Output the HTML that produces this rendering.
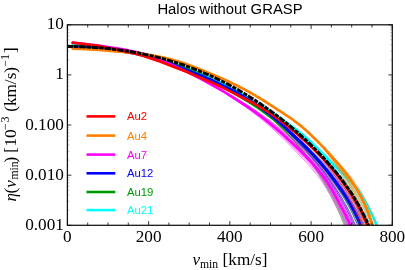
<!DOCTYPE html>
<html><head><meta charset="utf-8"><style>
html,body{margin:0;padding:0;background:#fff;}
body{width:405px;height:270px;overflow:hidden;position:relative;font-family:"Liberation Serif",serif;}
svg{position:absolute;left:0;top:0;}
text{font-family:"Liberation Serif",serif;font-size:16px;fill:#000;}
text.tk{font-size:17.2px;}
text.lb{font-size:17.2px;}
text.sb{font-size:11.7px;}
text.sp{font-size:12px;}
.i{font-style:italic;}
text.lg{font-family:"Liberation Sans",sans-serif;font-size:11.3px;}
</style></head><body>
<svg style="will-change:transform" width="405" height="270" viewBox="0 0 405 270">
<defs><clipPath id="c"><rect x="67.4" y="24.8" width="324.9" height="200.5"/></clipPath></defs>
<g clip-path="url(#c)" fill="none" stroke-linejoin="round">
<path d="M71.8 44.7 80.9 45.0 89.9 45.6 98.9 46.5 107.8 47.5 116.8 48.9 125.6 50.5 134.4 52.4 143.2 54.4 151.9 56.6 160.6 59.1 169.1 61.7 177.7 64.5 186.1 67.5 194.5 70.7 202.8 74.1 211.0 77.7 219.0 81.6 227.0 85.7 234.9 90.0 242.6 94.4 249.2 98.3 251.8 99.9 254.3 101.4 256.9 103.0 259.4 104.5 262.0 106.1 264.5 107.8 267.0 109.4 269.5 111.1 272.0 112.7 274.5 114.4 277.0 116.1 279.5 117.7 282.0 119.4 284.4 121.1 286.9 122.8 289.4 124.5 291.8 126.3 294.3 128.1 296.7 129.9 299.0 131.8 301.4 133.7 303.7 135.6 306.0 137.6 308.2 139.6 310.5 141.6 312.6 143.7 314.7 145.9 316.8 148.1 318.8 150.4 320.7 152.7 322.7 155.0 324.6 157.3 326.5 159.7 328.3 162.1 330.2 164.4 332.0 166.8 333.9 169.2 335.8 171.5 337.7 173.8 339.5 176.2 341.4 178.6 343.1 181.0 344.8 183.5 346.5 186.0 348.2 188.5 349.7 191.0 351.2 193.7 352.5 196.4 353.7 199.1 354.9 201.9 356.1 204.6 357.2 207.4 358.3 210.2 359.3 213.0 360.4 215.8 361.3 218.6 362.2 221.4 363.1 224.2 364.0 227.1 364.8 229.9 365.5 232.7 366.3 235.6 367.0 238.4 367.6 241.3 368.3 244.1 368.9 247.0 369.5 249.8 370.0 252.7 370.5 255.5 371.0 258.4 371.5 261.3 371.9 264.1 372.3 267.0 372.7 269.9" stroke="#00ffff" stroke-width="0.5"/>
<path d="M71.8 44.7 80.9 45.0 89.9 45.6 98.9 46.5 107.8 47.5 116.8 48.9 125.6 50.5 134.4 52.4 143.2 54.4 151.9 56.6 160.6 59.1 169.1 61.7 177.7 64.5 186.1 67.5 194.5 70.7 202.8 74.1 211.0 77.7 219.0 81.6 227.0 85.7 234.9 90.0 242.6 94.4 249.2 98.3 251.8 99.9 254.3 101.4 256.9 103.0 259.4 104.5 262.0 106.1 264.5 107.8 267.0 109.4 269.5 111.1 272.0 112.7 274.5 114.4 277.0 116.1 279.5 117.7 282.0 119.4 284.4 121.1 286.9 122.8 289.4 124.5 291.8 126.3 294.3 128.1 296.7 129.9 299.0 131.8 301.4 133.7 303.7 135.6 306.0 137.6 308.2 139.6 310.5 141.6 312.6 143.7 314.8 145.9 316.8 148.1 318.9 150.3 320.9 152.5 322.9 154.8 324.8 157.1 326.8 159.4 328.7 161.7 330.6 164.1 332.5 166.4 334.5 168.7 336.4 171.0 338.4 173.2 340.4 175.5 342.3 177.9 344.1 180.3 345.9 182.7 347.7 185.1 349.5 187.6 351.1 190.1 352.7 192.7 354.1 195.4 355.4 198.1 356.7 200.8 358.0 203.6 359.2 206.3 360.4 209.1 361.5 211.9 362.6 214.7 363.7 217.5 364.7 220.3 365.7 223.1 366.6 225.9 367.5 228.8 368.4 231.6 369.2 234.5 370.0 237.3 370.7 240.2 371.4 243.1 372.1 246.0 372.8 248.8 373.4 251.7 374.0 254.6 374.5 257.5 375.0 260.4 375.5 263.3 376.0 266.2 376.5 269.1" stroke="#00ffff" stroke-width="0.5"/>
<path d="M71.8 44.7 80.9 45.0 89.9 45.6 98.9 46.5 107.8 47.5 116.8 48.9 125.6 50.5 134.4 52.4 143.2 54.4 151.9 56.6 160.6 59.1 169.1 61.7 177.7 64.5 186.1 67.5 194.5 70.7 202.8 74.1 211.0 77.7 219.0 81.6 227.0 85.7 234.9 90.0 242.6 94.4 249.2 98.3 251.8 99.9 254.3 101.4 256.9 103.0 259.4 104.5 262.0 106.1 264.5 107.8 267.0 109.4 269.5 111.1 272.0 112.7 274.5 114.4 277.0 116.1 279.5 117.7 282.0 119.4 284.4 121.1 286.9 122.8 289.4 124.5 291.8 126.3 294.3 128.1 296.7 129.9 299.0 131.8 301.4 133.7 303.7 135.6 306.0 137.6 308.2 139.6 310.5 141.6 312.6 143.7 314.8 145.9 316.9 148.0 318.9 150.3 320.9 152.5 322.9 154.8 324.9 157.0 326.9 159.3 328.8 161.7 330.7 164.0 332.6 166.3 334.6 168.6 336.6 170.8 338.6 173.1 340.6 175.4 342.5 177.7 344.4 180.1 346.2 182.5 348.0 184.9 349.8 187.3 351.5 189.8 353.1 192.4 354.5 195.1 355.9 197.8 357.2 200.5 358.5 203.3 359.7 206.0 360.9 208.8 362.1 211.6 363.2 214.4 364.3 217.2 365.4 220.0 366.4 222.8 367.3 225.6 368.2 228.5 369.1 231.3 370.0 234.2 370.8 237.1 371.5 239.9 372.3 242.8 373.0 245.7 373.6 248.6 374.3 251.5 374.9 254.4 375.5 257.3 376.0 260.2 376.5 263.1 377.0 266.0 377.5 269.0" stroke="#00ffff" stroke-width="0.5"/>
<path d="M71.8 44.7 80.9 45.0 89.9 45.6 98.9 46.5 107.8 47.5 116.8 48.9 125.6 50.5 134.4 52.4 143.2 54.4 151.9 56.6 160.6 59.1 169.1 61.7 177.7 64.5 186.1 67.5 194.5 70.7 202.8 74.1 211.0 77.7 219.0 81.6 227.0 85.7 234.9 90.0 242.6 94.4 249.2 98.3 251.8 99.9 254.3 101.4 256.9 103.0 259.4 104.5 262.0 106.1 264.5 107.8 267.0 109.4 269.5 111.1 272.0 112.7 274.5 114.4 277.0 116.1 279.5 117.7 282.0 119.4 284.4 121.1 286.9 122.8 289.4 124.5 291.8 126.3 294.3 128.1 296.7 129.9 299.0 131.8 301.4 133.7 303.7 135.6 306.0 137.6 308.2 139.6 310.5 141.6 312.7 143.7 314.8 145.8 316.9 148.0 319.0 150.1 321.1 152.3 323.1 154.6 325.2 156.8 327.2 159.1 329.2 161.3 331.1 163.6 333.1 165.9 335.2 168.1 337.3 170.3 339.4 172.5 341.4 174.7 343.4 177.0 345.4 179.3 347.3 181.7 349.3 184.0 351.2 186.4 353.0 188.9 354.7 191.4 356.2 194.1 357.6 196.7 359.1 199.4 360.4 202.1 361.8 204.9 363.1 207.6 364.4 210.4 365.6 213.2 366.8 216.0 367.9 218.8 369.0 221.6 370.1 224.5 371.1 227.3 372.0 230.2 373.0 233.1 373.9 236.0 374.7 238.9 375.6 241.8 376.3 244.7 377.1 247.6 377.8 250.5 378.5 253.4 379.1 256.4 379.7 259.3 380.3 262.3 380.8 265.2 381.3 268.2" stroke="#00ffff" stroke-width="0.5"/>
<path d="M71.8 44.7 80.9 45.0 89.9 45.6 98.9 46.5 107.8 47.5 116.8 48.9 125.6 50.5 134.4 52.4 143.2 54.4 151.9 56.6 160.6 59.1 169.1 61.7 177.7 64.5 186.1 67.5 194.5 70.7 202.8 74.1 211.0 77.7 219.0 81.6 227.0 85.7 234.9 90.0 242.6 94.4 249.2 98.3 251.8 99.9 254.3 101.4 256.9 103.0 259.4 104.5 262.0 106.1 264.5 107.8 267.0 109.4 269.5 111.1 272.0 112.7 274.5 114.4 277.0 116.1 279.5 117.7 282.0 119.4 284.4 121.1 286.9 122.8 289.4 124.5 291.8 126.3 294.3 128.1 296.7 129.9 299.0 131.8 301.4 133.7 303.7 135.6 306.0 137.6 308.2 139.6 310.5 141.6 312.7 143.7 314.8 145.8 317.0 147.9 319.1 150.1 321.1 152.3 323.2 154.5 325.3 156.7 327.3 158.9 329.3 161.2 331.3 163.4 333.3 165.7 335.4 167.9 337.5 170.1 339.7 172.2 341.8 174.5 343.8 176.7 345.8 179.0 347.8 181.3 349.8 183.7 351.7 186.0 353.5 188.5 355.2 191.0 356.8 193.6 358.3 196.3 359.8 199.0 361.2 201.7 362.6 204.4 363.9 207.2 365.2 210.0 366.5 212.7 367.7 215.5 368.9 218.4 370.0 221.2 371.1 224.0 372.2 226.9 373.2 229.8 374.1 232.6 375.1 235.5 376.0 238.4 376.8 241.4 377.6 244.3 378.4 247.2 379.1 250.1 379.8 253.1 380.5 256.0 381.1 259.0 381.7 261.9 382.3 264.9 382.8 267.9" stroke="#00ffff" stroke-width="0.5"/>
<path d="M71.8 44.7 80.9 45.0 89.9 45.6 98.9 46.5 107.8 47.5 116.8 48.9 125.6 50.5 134.4 52.4 143.2 54.4 151.9 56.6 160.6 59.1 169.1 61.7 177.7 64.5 186.1 67.5 194.5 70.7 202.8 74.1 211.0 77.7 219.0 81.6 227.0 85.7 234.9 90.0 242.6 94.4 249.2 98.3 251.8 99.9 254.3 101.4 256.9 103.0 259.4 104.5 262.0 106.1 264.5 107.8 267.0 109.4 269.5 111.1 272.0 112.7 274.5 114.4 277.0 116.1 279.5 117.7 282.0 119.4 284.4 121.1 286.9 122.8 289.4 124.5 291.8 126.3 294.3 128.1 296.7 129.9 299.0 131.8 301.4 133.7 303.7 135.6 306.0 137.6 308.2 139.6 310.5 141.6 312.7 143.7 314.9 145.8 317.0 147.9 319.1 150.0 321.3 152.2 323.4 154.4 325.4 156.5 327.5 158.8 329.6 161.0 331.6 163.2 333.7 165.4 335.8 167.6 338.0 169.7 340.2 171.8 342.3 174.0 344.4 176.2 346.5 178.5 348.6 180.8 350.6 183.1 352.6 185.4 354.5 187.8 356.3 190.3 357.9 192.9 359.5 195.6 361.0 198.3 362.5 201.0 364.0 203.7 365.4 206.4 366.8 209.2 368.1 211.9 369.4 214.7 370.6 217.6 371.8 220.4 373.0 223.2 374.1 226.1 375.2 229.0 376.2 231.9 377.2 234.8 378.1 237.7 379.0 240.6 379.9 243.6 380.7 246.5 381.5 249.5 382.3 252.4 383.0 255.4 383.6 258.4 384.3 261.4 384.9 264.4 385.5 267.4" stroke="#00ffff" stroke-width="0.5"/>
<path d="M71.8 44.7 80.9 45.0 89.9 45.6 98.9 46.5 107.8 47.5 116.8 48.9 125.6 50.5 134.4 52.4 143.2 54.4 151.9 56.6 160.6 59.1 169.1 61.7 177.7 64.5 186.1 67.5 194.5 70.7 202.8 74.1 211.0 77.7 219.0 81.6 227.0 85.7 234.9 90.0 242.6 94.4 249.2 98.3 251.8 99.9 254.3 101.4 256.9 103.0 259.4 104.5 262.0 106.1 264.5 107.8 267.0 109.4 269.5 111.1 272.0 112.7 274.5 114.4 277.0 116.1 279.5 117.7 282.0 119.4 284.4 121.1 286.9 122.8 289.4 124.5 291.8 126.3 294.3 128.1 296.7 129.9 299.0 131.8 301.4 133.7 303.7 135.6 306.0 137.6 308.2 139.6 310.5 141.6 312.7 143.7 314.9 145.7 317.1 147.8 319.2 150.0 321.4 152.1 323.5 154.2 325.6 156.4 327.7 158.6 329.8 160.7 331.9 162.9 334.0 165.1 336.2 167.2 338.5 169.3 340.7 171.4 342.9 173.5 345.1 175.7 347.2 178.0 349.4 180.2 351.5 182.5 353.5 184.8 355.5 187.1 357.4 189.6 359.1 192.2 360.7 194.8 362.3 197.5 363.9 200.2 365.4 202.9 366.9 205.6 368.3 208.3 369.7 211.1 371.1 213.9 372.4 216.7 373.7 219.6 374.9 222.4 376.1 225.3 377.2 228.2 378.3 231.1 379.4 234.0 380.4 236.9 381.3 239.9 382.2 242.9 383.1 245.8 384.0 248.8 384.8 251.8 385.5 254.8 386.2 257.8 386.9 260.8 387.6 263.8 388.2 266.8" stroke="#00ffff" stroke-width="0.5"/>
<path d="M71.8 44.7 80.9 45.0 89.9 45.6 98.9 46.5 107.8 47.5 116.8 48.9 125.6 50.5 134.4 52.4 143.2 54.4 151.9 56.6 160.6 59.1 169.1 61.7 177.7 64.5 186.1 67.5 194.5 70.7 202.8 74.1 211.0 77.7 219.0 81.6 227.0 85.7 234.9 90.0 242.6 94.4 249.2 98.3 251.8 99.9 254.3 101.4 256.9 103.0 259.4 104.5 262.0 106.1 264.5 107.8 267.0 109.4 269.5 111.1 272.0 112.7 274.5 114.4 277.0 116.1 279.5 117.7 282.0 119.4 284.4 121.1 286.9 122.8 289.4 124.5 291.8 126.3 294.3 128.1 296.7 129.9 299.0 131.8 301.4 133.7 303.7 135.6 306.0 137.6 308.2 139.6 310.5 141.6 312.7 143.7 314.9 145.7 317.1 147.8 319.3 149.9 321.4 152.0 323.6 154.1 325.7 156.3 327.9 158.4 330.0 160.6 332.1 162.7 334.3 164.9 336.5 167.0 338.8 169.0 341.1 171.1 343.3 173.2 345.6 175.4 347.7 177.6 349.9 179.8 352.1 182.0 354.2 184.3 356.2 186.7 358.1 189.1 359.9 191.7 361.6 194.3 363.2 197.0 364.8 199.6 366.4 202.3 367.9 205.0 369.4 207.8 370.9 210.6 372.3 213.3 373.6 216.2 375.0 219.0 376.2 221.9 377.5 224.7 378.6 227.6 379.8 230.5 380.9 233.5 381.9 236.4 382.9 239.4 383.9 242.4 384.8 245.3 385.7 248.3 386.5 251.3 387.3 254.3 388.0 257.4 388.7 260.4 389.4 263.4 390.0 266.4" stroke="#00ffff" stroke-width="0.5"/>
<path d="M71.8 44.7 80.9 45.0 89.9 45.6 98.9 46.5 107.8 47.5 116.8 48.9 125.6 50.5 134.4 52.4 143.2 54.4 151.9 56.6 160.6 59.1 169.1 61.7 177.7 64.5 186.1 67.5 194.5 70.7 202.8 74.1 211.0 77.7 219.0 81.6 227.0 85.7 234.9 90.0 242.6 94.4 249.2 98.3 251.8 99.9 254.3 101.4 256.9 103.0 259.4 104.5 262.0 106.1 264.5 107.8 267.0 109.4 269.5 111.1 272.0 112.7 274.5 114.4 277.0 116.1 279.5 117.7 282.0 119.4 284.4 121.1 286.9 122.8 289.4 124.5 291.8 126.3 294.3 128.1 296.7 129.9 299.0 131.8 301.4 133.7 303.7 135.6 306.0 137.6 308.2 139.6 310.5 141.6 312.7 143.7 314.9 145.7 317.1 147.8 319.2 149.9 321.4 152.1 323.5 154.2 325.7 156.3 327.8 158.5 329.9 160.7 332.0 162.9 334.1 165.0 336.3 167.1 338.6 169.2 340.8 171.3 343.1 173.4 345.3 175.6 347.4 177.8 349.5 180.1 351.7 182.3 353.8 184.6 355.8 187.0 357.7 189.4 359.4 192.0 361.0 194.6 362.7 197.3 364.2 200.0 365.8 202.7 367.3 205.4 368.7 208.1 370.1 210.9 371.5 213.7 372.9 216.5 374.1 219.4 375.4 222.2 376.6 225.1 377.7 228.0 378.8 230.9 379.9 233.8 380.9 236.8 381.9 239.7 382.8 242.7 383.7 245.7 384.6 248.6 385.4 251.6 386.1 254.6 386.9 257.6 387.6 260.6 388.2 263.7 388.8 266.7" stroke="#00ffff" stroke-width="2.7"/>
<path d="M71.8 46.2 80.8 46.5 89.8 47.0 98.8 47.7 107.7 48.7 116.6 49.9 125.5 51.3 134.3 53.0 143.1 54.9 151.8 57.2 160.4 59.9 168.8 62.7 177.3 65.7 185.6 68.8 193.9 72.1 202.1 75.6 210.1 79.5 218.0 83.7 225.8 88.1 233.4 92.5 241.1 97.0 247.5 101.0 250.0 102.6 252.5 104.2 255.0 105.8 257.4 107.5 259.8 109.3 262.2 111.1 264.5 112.9 266.8 114.8 269.1 116.7 271.3 118.6 273.5 120.6 275.7 122.6 277.8 124.7 279.9 126.7 282.0 128.8 284.1 130.9 286.2 133.1 288.2 135.2 290.2 137.4 292.2 139.6 294.1 141.8 296.0 144.0 297.9 146.3 299.8 148.5 301.7 150.8 303.5 153.1 305.3 155.4 307.1 157.7 308.8 160.1 310.5 162.4 312.2 164.8 313.9 167.2 315.5 169.6 317.1 172.0 318.7 174.4 320.2 176.9 321.7 179.3 323.2 181.8 324.6 184.3 326.0 186.7 327.4 189.2 328.8 191.7 330.1 194.1 331.5 196.6 332.8 199.1 334.0 201.6 335.2 204.0 336.4 206.5 337.6 209.0 338.7 211.6 339.7 214.1 340.8 216.6 341.7 219.1 342.7 221.6 343.6 224.2 344.5 226.7 345.3 229.2 346.1 231.8 346.9 234.3 347.7 236.9 348.5 239.4 349.2 241.9 349.9 244.5 350.5 247.1 351.2 249.6 351.8 252.2 352.3 254.8 352.9 257.4 353.4 260.0 353.9 262.7 354.4 265.3 354.8 267.9 355.3 270.6 355.7 273.3" stroke="#009900" stroke-width="0.5"/>
<path d="M71.8 46.2 80.8 46.5 89.8 47.0 98.8 47.7 107.7 48.7 116.6 49.9 125.5 51.3 134.3 53.0 143.1 54.9 151.8 57.2 160.4 59.9 168.8 62.7 177.3 65.7 185.6 68.8 193.9 72.1 202.1 75.6 210.1 79.5 218.0 83.7 225.8 88.1 233.4 92.5 241.1 97.0 247.5 101.0 250.0 102.6 252.5 104.2 255.0 105.8 257.4 107.5 259.8 109.3 262.2 111.1 264.5 112.9 266.8 114.7 269.1 116.6 271.3 118.6 273.6 120.5 275.7 122.5 277.9 124.6 280.0 126.6 282.2 128.7 284.2 130.8 286.3 132.9 288.3 135.0 290.4 137.2 292.4 139.4 294.3 141.6 296.3 143.8 298.2 146.0 300.1 148.2 302.0 150.5 303.8 152.8 305.6 155.1 307.4 157.4 309.2 159.7 310.9 162.0 312.7 164.4 314.3 166.8 316.0 169.2 317.6 171.5 319.2 174.0 320.8 176.4 322.3 178.8 323.8 181.3 325.3 183.7 326.7 186.2 328.1 188.7 329.5 191.1 330.9 193.6 332.3 196.1 333.6 198.5 334.9 201.0 336.1 203.5 337.3 206.0 338.5 208.5 339.6 211.0 340.7 213.5 341.8 216.0 342.8 218.5 343.8 221.1 344.7 223.6 345.6 226.1 346.5 228.7 347.3 231.2 348.1 233.8 348.9 236.3 349.7 238.9 350.5 241.5 351.2 244.0 351.9 246.6 352.5 249.2 353.2 251.8 353.8 254.4 354.3 257.0 354.9 259.6 355.4 262.3 355.9 264.9 356.3 267.6 356.8 270.3 357.2 273.0" stroke="#009900" stroke-width="0.5"/>
<path d="M71.8 46.2 80.8 46.5 89.8 47.0 98.8 47.7 107.7 48.7 116.6 49.9 125.5 51.3 134.3 53.0 143.1 54.9 151.8 57.2 160.4 59.9 168.8 62.7 177.3 65.7 185.6 68.8 193.9 72.1 202.1 75.6 210.1 79.5 218.0 83.7 225.8 88.1 233.4 92.5 241.1 97.0 247.5 101.0 250.0 102.6 252.5 104.2 255.0 105.8 257.4 107.5 259.8 109.3 262.2 111.0 264.5 112.9 266.8 114.7 269.1 116.6 271.4 118.5 273.6 120.5 275.8 122.5 278.0 124.5 280.1 126.5 282.2 128.6 284.3 130.7 286.4 132.8 288.5 134.9 290.5 137.0 292.5 139.2 294.5 141.4 296.4 143.6 298.4 145.8 300.3 148.0 302.2 150.3 304.1 152.5 305.9 154.8 307.7 157.1 309.5 159.4 311.3 161.7 313.0 164.1 314.7 166.4 316.4 168.8 318.0 171.2 319.6 173.6 321.2 176.0 322.8 178.4 324.3 180.9 325.8 183.3 327.2 185.8 328.7 188.3 330.1 190.7 331.5 193.2 332.9 195.6 334.2 198.1 335.5 200.6 336.8 203.0 338.0 205.5 339.2 208.0 340.4 210.5 341.5 213.1 342.6 215.6 343.6 218.1 344.6 220.6 345.6 223.2 346.5 225.7 347.4 228.3 348.3 230.8 349.1 233.4 349.9 236.0 350.7 238.5 351.5 241.1 352.2 243.7 352.9 246.2 353.6 248.8 354.2 251.5 354.8 254.1 355.4 256.7 356.0 259.3 356.5 262.0 357.0 264.7 357.5 267.4 358.0 270.0 358.4 272.7" stroke="#009900" stroke-width="0.5"/>
<path d="M71.8 46.2 80.8 46.5 89.8 47.0 98.8 47.7 107.7 48.7 116.6 49.9 125.5 51.3 134.3 53.0 143.1 54.9 151.8 57.2 160.4 59.9 168.8 62.7 177.3 65.7 185.6 68.8 193.9 72.1 202.1 75.6 210.1 79.5 218.0 83.7 225.8 88.1 233.4 92.5 241.1 97.0 247.5 101.0 250.0 102.6 252.5 104.2 255.0 105.8 257.4 107.5 259.8 109.3 262.2 111.0 264.5 112.8 266.9 114.7 269.2 116.6 271.4 118.5 273.7 120.4 275.9 122.4 278.1 124.4 280.2 126.4 282.4 128.4 284.5 130.5 286.6 132.6 288.6 134.7 290.7 136.8 292.7 139.0 294.7 141.1 296.7 143.3 298.6 145.5 300.6 147.7 302.5 150.0 304.3 152.2 306.2 154.5 308.0 156.8 309.8 159.1 311.6 161.4 313.4 163.7 315.1 166.1 316.8 168.4 318.5 170.8 320.1 173.2 321.7 175.6 323.3 178.0 324.8 180.4 326.4 182.9 327.8 185.3 329.3 187.8 330.8 190.2 332.2 192.7 333.6 195.1 335.0 197.6 336.3 200.0 337.6 202.5 338.8 205.0 340.1 207.5 341.3 210.0 342.4 212.5 343.5 215.1 344.6 217.6 345.6 220.1 346.6 222.7 347.6 225.2 348.5 227.8 349.4 230.3 350.2 232.9 351.1 235.5 351.9 238.1 352.7 240.6 353.4 243.2 354.2 245.8 354.9 248.4 355.5 251.1 356.2 253.7 356.8 256.3 357.3 259.0 357.9 261.7 358.4 264.3 358.9 267.0 359.4 269.7 359.8 272.5" stroke="#009900" stroke-width="0.5"/>
<path d="M71.8 46.2 80.8 46.5 89.8 47.0 98.8 47.7 107.7 48.7 116.6 49.9 125.5 51.3 134.3 53.0 143.1 54.9 151.8 57.2 160.4 59.9 168.8 62.7 177.3 65.7 185.6 68.8 193.9 72.1 202.1 75.6 210.1 79.5 218.0 83.7 225.8 88.1 233.4 92.5 241.1 97.0 247.5 101.0 250.0 102.6 252.5 104.2 255.0 105.8 257.4 107.5 259.8 109.2 262.2 111.0 264.6 112.8 266.9 114.6 269.2 116.5 271.5 118.4 273.7 120.3 276.0 122.3 278.2 124.2 280.3 126.2 282.5 128.3 284.6 130.3 286.7 132.4 288.8 134.5 290.9 136.6 292.9 138.7 294.9 140.9 296.9 143.0 298.9 145.2 300.9 147.4 302.8 149.6 304.7 151.8 306.6 154.1 308.5 156.4 310.3 158.6 312.1 160.9 313.9 163.2 315.6 165.6 317.4 167.9 319.1 170.3 320.7 172.6 322.4 175.0 324.0 177.4 325.6 179.9 327.1 182.3 328.6 184.7 330.1 187.2 331.6 189.6 333.1 192.0 334.5 194.5 335.9 196.9 337.3 199.4 338.6 201.9 339.9 204.3 341.1 206.8 342.4 209.4 343.5 211.9 344.7 214.4 345.8 216.9 346.9 219.5 347.9 222.0 348.9 224.6 349.8 227.2 350.7 229.7 351.6 232.3 352.5 234.9 353.4 237.5 354.2 240.1 355.0 242.7 355.7 245.3 356.4 247.9 357.1 250.6 357.8 253.2 358.4 255.9 359.0 258.6 359.6 261.2 360.1 263.9 360.6 266.7 361.1 269.4 361.6 272.1" stroke="#009900" stroke-width="0.5"/>
<path d="M71.8 46.2 80.8 46.5 89.8 47.0 98.8 47.7 107.7 48.7 116.6 49.9 125.5 51.3 134.3 53.0 143.1 54.9 151.8 57.2 160.4 59.9 168.8 62.7 177.3 65.7 185.6 68.8 193.9 72.1 202.1 75.6 210.1 79.5 218.0 83.7 225.8 88.1 233.4 92.5 241.1 97.0 247.5 101.0 250.0 102.6 252.5 104.2 255.0 105.8 257.4 107.5 259.9 109.2 262.3 110.9 264.6 112.7 267.0 114.5 269.3 116.3 271.7 118.2 273.9 120.0 276.2 121.9 278.5 123.9 280.7 125.8 282.9 127.8 285.1 129.8 287.2 131.8 289.4 133.8 291.5 135.9 293.6 137.9 295.7 140.0 297.8 142.1 299.8 144.3 301.8 146.4 303.8 148.5 305.8 150.7 307.8 152.9 309.7 155.1 311.6 157.3 313.5 159.6 315.4 161.8 317.2 164.1 319.0 166.4 320.8 168.7 322.6 171.0 324.3 173.4 326.0 175.7 327.7 178.1 329.3 180.5 330.9 182.9 332.5 185.3 334.1 187.7 335.7 190.1 337.2 192.6 338.7 195.0 340.2 197.4 341.6 199.9 343.0 202.4 344.4 204.9 345.7 207.4 347.0 209.9 348.2 212.4 349.4 215.0 350.6 217.5 351.7 220.1 352.8 222.7 353.9 225.3 354.9 227.9 355.8 230.5 356.8 233.1 357.8 235.8 358.7 238.4 359.6 241.1 360.4 243.7 361.2 246.4 362.0 249.1 362.7 251.8 363.4 254.5 364.0 257.2 364.7 260.0 365.3 262.7 365.9 265.5 366.4 268.3 366.9 271.0" stroke="#009900" stroke-width="0.5"/>
<path d="M71.8 46.2 80.8 46.5 89.8 47.0 98.8 47.7 107.7 48.7 116.6 49.9 125.5 51.3 134.3 53.0 143.1 54.9 151.8 57.2 160.4 59.9 168.8 62.7 177.3 65.7 185.6 68.8 193.9 72.1 202.1 75.6 210.1 79.5 218.0 83.7 225.8 88.1 233.4 92.5 241.1 97.0 247.5 101.0 250.0 102.6 252.5 104.2 255.0 105.8 257.4 107.5 259.9 109.2 262.3 110.9 264.7 112.7 267.0 114.4 269.4 116.2 271.7 118.1 274.0 119.9 276.3 121.8 278.6 123.7 280.8 125.6 283.0 127.6 285.2 129.6 287.4 131.5 289.6 133.6 291.7 135.6 293.9 137.6 296.0 139.7 298.1 141.8 300.2 143.9 302.2 146.0 304.2 148.1 306.3 150.3 308.3 152.4 310.2 154.6 312.2 156.8 314.1 159.0 316.0 161.3 317.9 163.5 319.7 165.8 321.5 168.1 323.3 170.4 325.1 172.7 326.8 175.1 328.5 177.4 330.2 179.8 331.8 182.2 333.5 184.6 335.1 187.0 336.7 189.4 338.3 191.8 339.8 194.2 341.4 196.6 342.8 199.1 344.3 201.6 345.7 204.1 347.0 206.6 348.4 209.1 349.7 211.6 350.9 214.2 352.1 216.8 353.3 219.3 354.4 221.9 355.5 224.5 356.5 227.2 357.5 229.8 358.6 232.4 359.5 235.1 360.5 237.7 361.4 240.4 362.3 243.1 363.1 245.8 363.9 248.5 364.6 251.2 365.4 254.0 366.1 256.7 366.7 259.5 367.4 262.2 367.9 265.0 368.5 267.8 369.1 270.6" stroke="#009900" stroke-width="0.5"/>
<path d="M71.8 46.2 80.8 46.5 89.8 47.0 98.8 47.7 107.7 48.7 116.6 49.9 125.5 51.3 134.3 53.0 143.1 54.9 151.8 57.2 160.4 59.9 168.8 62.7 177.3 65.7 185.6 68.8 193.9 72.1 202.1 75.6 210.1 79.5 218.0 83.7 225.8 88.1 233.4 92.5 241.1 97.0 247.5 101.0 250.0 102.6 252.5 104.2 255.0 105.8 257.4 107.5 259.9 109.2 262.3 110.9 264.7 112.6 267.1 114.4 269.4 116.2 271.8 118.0 274.1 119.8 276.4 121.7 278.7 123.6 281.0 125.5 283.2 127.4 285.4 129.3 287.6 131.3 289.8 133.3 292.0 135.3 294.1 137.3 296.3 139.4 298.4 141.4 300.5 143.5 302.6 145.6 304.6 147.7 306.7 149.8 308.7 152.0 310.7 154.1 312.7 156.3 314.6 158.5 316.6 160.7 318.5 163.0 320.3 165.2 322.2 167.5 324.0 169.8 325.8 172.1 327.6 174.4 329.3 176.8 331.0 179.1 332.7 181.5 334.4 183.9 336.1 186.3 337.7 188.7 339.3 191.1 340.9 193.5 342.5 195.9 344.0 198.4 345.5 200.8 346.9 203.3 348.3 205.8 349.7 208.4 351.0 210.9 352.3 213.4 353.5 216.0 354.7 218.6 355.9 221.2 357.0 223.8 358.1 226.5 359.1 229.1 360.2 231.8 361.2 234.4 362.2 237.1 363.1 239.8 364.0 242.5 364.9 245.2 365.7 247.9 366.5 250.7 367.3 253.4 368.0 256.2 368.7 259.0 369.3 261.8 369.9 264.6 370.5 267.4 371.1 270.2" stroke="#009900" stroke-width="0.5"/>
<path d="M71.8 46.2 80.8 46.5 89.8 47.0 98.8 47.7 107.7 48.7 116.6 49.9 125.5 51.3 134.3 53.0 143.1 54.9 151.8 57.2 160.4 59.9 168.8 62.7 177.3 65.7 185.6 68.8 193.9 72.1 202.1 75.6 210.1 79.5 218.0 83.7 225.8 88.1 233.4 92.5 241.1 97.0 247.5 101.0 250.0 102.6 252.5 104.2 255.0 105.8 257.5 107.5 259.9 109.1 262.3 110.8 264.8 112.5 267.2 114.2 269.6 116.0 271.9 117.8 274.3 119.6 276.6 121.4 279.0 123.2 281.3 125.1 283.6 127.0 285.8 128.9 288.1 130.8 290.3 132.7 292.5 134.7 294.7 136.6 296.9 138.6 299.1 140.6 301.3 142.7 303.4 144.7 305.6 146.8 307.7 148.8 309.7 150.9 311.8 153.0 313.9 155.2 315.9 157.3 317.9 159.5 319.9 161.7 321.8 163.9 323.8 166.1 325.7 168.3 327.6 170.6 329.4 172.9 331.2 175.2 333.0 177.6 334.8 179.9 336.5 182.3 338.3 184.6 340.0 187.0 341.7 189.4 343.4 191.8 345.1 194.2 346.7 196.6 348.2 199.1 349.8 201.6 351.3 204.1 352.7 206.6 354.1 209.1 355.5 211.7 356.9 214.3 358.1 216.9 359.4 219.5 360.6 222.2 361.8 224.8 362.9 227.5 364.0 230.2 365.1 232.9 366.2 235.6 367.2 238.3 368.2 241.1 369.1 243.8 370.0 246.6 370.9 249.4 371.7 252.2 372.4 255.0 373.2 257.9 373.9 260.7 374.6 263.5 375.2 266.4 375.8 269.3" stroke="#009900" stroke-width="0.5"/>
<path d="M71.8 46.2 80.8 46.5 89.8 47.0 98.8 47.7 107.7 48.7 116.6 49.9 125.5 51.3 134.3 53.0 143.1 54.9 151.8 57.2 160.4 59.9 168.8 62.7 177.3 65.7 185.6 68.8 193.9 72.1 202.1 75.6 210.1 79.5 218.0 83.7 225.8 88.1 233.4 92.5 241.1 97.0 247.5 101.0 250.0 102.6 252.5 104.2 255.0 105.8 257.5 107.5 259.9 109.2 262.3 110.8 264.7 112.6 267.1 114.3 269.5 116.1 271.9 117.8 274.2 119.7 276.6 121.5 278.9 123.3 281.1 125.2 283.4 127.1 285.7 129.0 287.9 131.0 290.1 132.9 292.3 134.9 294.5 136.9 296.7 138.9 298.8 140.9 301.0 143.0 303.1 145.0 305.2 147.1 307.3 149.2 309.4 151.3 311.4 153.5 313.4 155.6 315.4 157.8 317.4 160.0 319.3 162.2 321.3 164.4 323.2 166.6 325.1 168.9 326.9 171.2 328.7 173.5 330.5 175.8 332.3 178.1 334.0 180.5 335.7 182.9 337.4 185.2 339.1 187.6 340.8 190.0 342.5 192.4 344.1 194.8 345.7 197.3 347.2 199.7 348.7 202.2 350.2 204.7 351.6 207.3 353.0 209.8 354.3 212.4 355.6 214.9 356.9 217.5 358.1 220.2 359.3 222.8 360.4 225.5 361.5 228.1 362.6 230.8 363.7 233.5 364.7 236.2 365.7 238.9 366.6 241.6 367.5 244.3 368.4 247.1 369.2 249.9 370.0 252.7 370.8 255.5 371.5 258.3 372.2 261.1 372.8 263.9 373.4 266.8 374.0 269.6" stroke="#009900" stroke-width="2.7"/>
<path d="M71.8 47.0 80.8 47.2 89.8 47.6 98.7 48.3 107.7 49.2 116.6 50.3 125.4 51.8 134.3 53.4 143.0 55.4 151.7 57.7 160.2 60.3 168.7 63.2 177.1 66.2 185.4 69.4 193.7 72.7 201.9 76.1 210.1 79.6 218.2 83.2 226.3 87.1 234.2 91.2 241.9 95.6 248.4 99.6 250.9 101.2 253.4 102.9 255.8 104.6 258.2 106.3 260.6 108.1 263.0 109.9 265.4 111.7 267.7 113.5 270.0 115.4 272.3 117.3 274.5 119.3 276.7 121.3 278.9 123.3 281.0 125.4 283.2 127.4 285.3 129.5 287.3 131.7 289.4 133.8 291.5 135.9 293.5 138.1 295.5 140.2 297.6 142.3 299.6 144.5 301.6 146.7 303.5 148.9 305.5 151.1 307.4 153.3 309.3 155.5 311.2 157.8 313.1 160.0 314.9 162.3 316.7 164.6 318.5 166.9 320.2 169.2 322.0 171.6 323.7 173.9 325.3 176.3 326.9 178.7 328.5 181.1 330.1 183.6 331.6 186.0 333.2 188.4 334.7 190.8 336.2 193.3 337.7 195.7 339.1 198.2 340.5 200.6 341.8 203.1 343.2 205.6 344.4 208.1 345.7 210.6 346.9 213.2 348.0 215.7 349.2 218.3 350.3 220.8 351.3 223.4 352.3 226.0 353.3 228.6 354.2 231.2 355.1 233.8 356.0 236.4 356.9 239.1 357.8 241.7 358.6 244.3 359.3 247.0 360.1 249.7 360.8 252.3 361.4 255.0 362.1 257.8 362.7 260.5 363.3 263.2 363.8 265.9 364.3 268.7 364.8 271.5" stroke="#0000ff" stroke-width="0.5"/>
<path d="M71.8 47.0 80.8 47.2 89.8 47.6 98.7 48.3 107.7 49.2 116.6 50.3 125.4 51.8 134.3 53.4 143.0 55.4 151.7 57.7 160.2 60.3 168.7 63.2 177.1 66.2 185.4 69.4 193.7 72.7 201.9 76.1 210.1 79.6 218.2 83.2 226.3 87.1 234.2 91.2 241.9 95.6 248.4 99.6 250.9 101.2 253.4 102.9 255.8 104.6 258.2 106.3 260.7 108.0 263.0 109.8 265.4 111.6 267.8 113.4 270.1 115.3 272.4 117.2 274.6 119.2 276.8 121.1 279.0 123.1 281.2 125.2 283.3 127.2 285.4 129.3 287.5 131.4 289.6 133.5 291.7 135.7 293.8 137.8 295.8 139.9 297.8 142.0 299.9 144.2 301.9 146.3 303.9 148.5 305.8 150.7 307.8 152.9 309.7 155.1 311.6 157.3 313.5 159.6 315.4 161.8 317.2 164.1 319.0 166.4 320.8 168.7 322.6 171.0 324.3 173.4 326.0 175.8 327.6 178.2 329.2 180.6 330.8 183.0 332.4 185.4 334.0 187.8 335.5 190.2 337.1 192.6 338.6 195.1 340.0 197.5 341.5 200.0 342.8 202.5 344.2 205.0 345.5 207.5 346.8 210.0 348.0 212.6 349.2 215.1 350.4 217.7 351.5 220.2 352.5 222.8 353.6 225.4 354.6 228.0 355.5 230.7 356.5 233.3 357.4 235.9 358.3 238.5 359.2 241.2 360.0 243.8 360.8 246.5 361.6 249.2 362.3 251.9 363.0 254.6 363.6 257.3 364.3 260.1 364.9 262.8 365.4 265.6 366.0 268.4 366.5 271.1" stroke="#0000ff" stroke-width="0.5"/>
<path d="M71.8 47.0 80.8 47.2 89.8 47.6 98.7 48.3 107.7 49.2 116.6 50.3 125.4 51.8 134.3 53.4 143.0 55.4 151.7 57.7 160.2 60.3 168.7 63.2 177.1 66.2 185.4 69.4 193.7 72.7 201.9 76.1 210.1 79.6 218.2 83.2 226.3 87.1 234.2 91.2 241.9 95.6 248.4 99.6 250.9 101.2 253.4 102.9 255.8 104.6 258.3 106.3 260.7 108.0 263.1 109.8 265.5 111.6 267.8 113.4 270.1 115.2 272.4 117.1 274.7 119.0 276.9 121.0 279.1 123.0 281.3 125.0 283.5 127.1 285.6 129.1 287.7 131.2 289.8 133.3 291.9 135.4 294.0 137.5 296.1 139.6 298.1 141.7 300.2 143.8 302.2 146.0 304.2 148.1 306.2 150.3 308.2 152.5 310.2 154.7 312.1 156.9 314.0 159.1 315.9 161.4 317.7 163.6 319.6 165.9 321.4 168.2 323.2 170.5 324.9 172.9 326.6 175.2 328.3 177.6 330.0 180.0 331.6 182.4 333.2 184.8 334.8 187.2 336.4 189.6 337.9 192.0 339.5 194.5 341.0 196.9 342.4 199.4 343.8 201.9 345.2 204.3 346.6 206.9 347.9 209.4 349.1 211.9 350.4 214.5 351.5 217.0 352.7 219.6 353.8 222.2 354.9 224.8 355.9 227.5 356.9 230.1 357.9 232.7 358.8 235.3 359.8 238.0 360.6 240.7 361.5 243.3 362.3 246.0 363.1 248.7 363.8 251.4 364.6 254.2 365.2 256.9 365.9 259.7 366.5 262.4 367.1 265.2 367.6 268.0 368.2 270.8" stroke="#0000ff" stroke-width="0.5"/>
<path d="M71.8 47.0 80.8 47.2 89.8 47.6 98.7 48.3 107.7 49.2 116.6 50.3 125.4 51.8 134.3 53.4 143.0 55.4 151.7 57.7 160.2 60.3 168.7 63.2 177.1 66.2 185.4 69.4 193.7 72.7 201.9 76.1 210.1 79.6 218.2 83.2 226.3 87.1 234.2 91.2 241.9 95.6 248.4 99.6 250.9 101.2 253.4 102.9 255.8 104.5 258.3 106.2 260.7 107.9 263.1 109.7 265.5 111.5 267.9 113.2 270.3 115.1 272.6 116.9 274.9 118.8 277.1 120.8 279.3 122.7 281.6 124.7 283.7 126.7 285.9 128.8 288.1 130.8 290.2 132.9 292.3 134.9 294.4 137.0 296.5 139.1 298.6 141.2 300.7 143.3 302.8 145.4 304.8 147.5 306.9 149.6 308.9 151.8 310.9 153.9 312.9 156.1 314.8 158.3 316.8 160.5 318.7 162.8 320.6 165.0 322.4 167.3 324.2 169.6 326.0 171.9 327.8 174.3 329.5 176.6 331.2 179.0 332.9 181.4 334.6 183.8 336.2 186.1 337.9 188.5 339.5 190.9 341.1 193.4 342.6 195.8 344.1 198.3 345.6 200.7 347.0 203.2 348.4 205.8 349.8 208.3 351.1 210.8 352.4 213.4 353.6 216.0 354.8 218.6 356.0 221.2 357.1 223.8 358.2 226.4 359.2 229.1 360.3 231.7 361.3 234.4 362.2 237.1 363.2 239.8 364.1 242.5 364.9 245.2 365.8 247.9 366.5 250.7 367.3 253.4 368.0 256.2 368.7 259.0 369.3 261.8 369.9 264.6 370.5 267.4 371.1 270.2" stroke="#0000ff" stroke-width="0.5"/>
<path d="M71.8 47.0 80.8 47.2 89.8 47.6 98.7 48.3 107.7 49.2 116.6 50.3 125.4 51.8 134.3 53.4 143.0 55.4 151.7 57.7 160.2 60.3 168.7 63.2 177.1 66.2 185.4 69.4 193.7 72.7 201.9 76.1 210.1 79.6 218.2 83.2 226.3 87.1 234.2 91.2 241.9 95.6 248.4 99.6 250.9 101.2 253.4 102.9 255.9 104.5 258.3 106.2 260.7 107.9 263.2 109.6 265.6 111.4 267.9 113.2 270.3 115.0 272.6 116.8 274.9 118.7 277.2 120.6 279.4 122.6 281.7 124.6 283.9 126.6 286.0 128.6 288.2 130.6 290.4 132.7 292.5 134.7 294.6 136.8 296.7 138.8 298.9 140.9 301.0 143.0 303.1 145.1 305.1 147.2 307.2 149.3 309.2 151.5 311.2 153.6 313.2 155.8 315.2 158.0 317.2 160.2 319.1 162.4 321.0 164.6 322.9 166.9 324.7 169.2 326.6 171.5 328.3 173.8 330.1 176.2 331.8 178.5 333.5 180.9 335.2 183.3 336.9 185.7 338.5 188.0 340.2 190.4 341.8 192.9 343.4 195.3 344.9 197.8 346.4 200.2 347.9 202.7 349.3 205.2 350.7 207.8 352.0 210.3 353.3 212.9 354.6 215.5 355.8 218.1 357.0 220.7 358.1 223.3 359.2 226.0 360.3 228.6 361.4 231.3 362.4 234.0 363.4 236.6 364.4 239.3 365.3 242.1 366.2 244.8 367.0 247.5 367.8 250.3 368.6 253.1 369.3 255.9 370.0 258.6 370.7 261.5 371.3 264.3 371.9 267.1 372.4 269.9" stroke="#0000ff" stroke-width="0.5"/>
<path d="M71.8 47.0 80.8 47.2 89.8 47.6 98.7 48.3 107.7 49.2 116.6 50.3 125.4 51.8 134.3 53.4 143.0 55.4 151.7 57.7 160.2 60.3 168.7 63.2 177.1 66.2 185.4 69.4 193.7 72.7 201.9 76.1 210.1 79.6 218.2 83.2 226.3 87.1 234.2 91.2 241.9 95.6 248.4 99.6 250.9 101.2 253.4 102.9 255.9 104.5 258.3 106.2 260.8 107.9 263.2 109.6 265.6 111.4 268.0 113.1 270.4 114.9 272.7 116.7 275.0 118.6 277.3 120.5 279.5 122.5 281.8 124.4 284.0 126.4 286.2 128.4 288.4 130.4 290.5 132.5 292.7 134.5 294.8 136.6 297.0 138.6 299.1 140.7 301.2 142.7 303.3 144.8 305.4 146.9 307.5 149.0 309.5 151.1 311.6 153.3 313.6 155.4 315.6 157.6 317.6 159.8 319.5 162.0 321.5 164.2 323.4 166.5 325.2 168.7 327.1 171.0 328.9 173.3 330.7 175.7 332.4 178.0 334.1 180.4 335.8 182.8 337.6 185.2 339.2 187.5 340.9 189.9 342.5 192.3 344.1 194.8 345.7 197.2 347.2 199.7 348.7 202.2 350.2 204.7 351.6 207.2 353.0 209.8 354.3 212.4 355.6 215.0 356.8 217.6 358.0 220.2 359.2 222.8 360.3 225.5 361.4 228.2 362.5 230.8 363.6 233.5 364.6 236.2 365.6 238.9 366.5 241.6 367.4 244.4 368.3 247.1 369.1 249.9 369.9 252.7 370.6 255.5 371.3 258.3 372.0 261.1 372.6 264.0 373.3 266.8 373.8 269.7" stroke="#0000ff" stroke-width="0.5"/>
<path d="M71.8 47.0 80.8 47.2 89.8 47.6 98.7 48.3 107.7 49.2 116.6 50.3 125.4 51.8 134.3 53.4 143.0 55.4 151.7 57.7 160.2 60.3 168.7 63.2 177.1 66.2 185.4 69.4 193.7 72.7 201.9 76.1 210.1 79.6 218.2 83.2 226.3 87.1 234.2 91.2 241.9 95.6 248.4 99.6 250.9 101.2 253.4 102.9 255.9 104.5 258.4 106.1 260.8 107.8 263.3 109.5 265.7 111.2 268.1 113.0 270.5 114.7 272.8 116.6 275.2 118.4 277.5 120.3 279.8 122.2 282.0 124.1 284.3 126.1 286.5 128.1 288.7 130.0 290.9 132.0 293.1 134.0 295.3 136.1 297.4 138.1 299.6 140.1 301.8 142.1 303.9 144.2 306.1 146.2 308.2 148.3 310.3 150.4 312.4 152.5 314.4 154.6 316.5 156.8 318.5 158.9 320.5 161.1 322.5 163.3 324.4 165.5 326.3 167.8 328.2 170.0 330.1 172.3 331.9 174.7 333.7 177.0 335.5 179.3 337.3 181.7 339.0 184.1 340.8 186.4 342.5 188.8 344.2 191.2 345.8 193.6 347.5 196.1 349.0 198.6 350.6 201.1 352.1 203.6 353.6 206.1 355.0 208.7 356.4 211.2 357.7 213.8 359.0 216.5 360.3 219.1 361.5 221.8 362.7 224.4 363.8 227.1 365.0 229.8 366.1 232.5 367.2 235.2 368.2 238.0 369.2 240.7 370.1 243.5 371.0 246.3 371.9 249.1 372.7 251.9 373.5 254.8 374.2 257.6 374.9 260.4 375.6 263.3 376.3 266.2 376.9 269.1" stroke="#0000ff" stroke-width="0.5"/>
<path d="M71.8 47.0 80.8 47.2 89.8 47.6 98.7 48.3 107.7 49.2 116.6 50.3 125.4 51.8 134.3 53.4 143.0 55.4 151.7 57.7 160.2 60.3 168.7 63.2 177.1 66.2 185.4 69.4 193.7 72.7 201.9 76.1 210.1 79.6 218.2 83.2 226.3 87.1 234.2 91.2 241.9 95.6 248.4 99.6 250.9 101.2 253.4 102.9 255.9 104.5 258.4 106.1 260.8 107.8 263.3 109.5 265.7 111.2 268.1 112.9 270.5 114.7 272.9 116.5 275.2 118.3 277.5 120.2 279.8 122.1 282.1 124.0 284.3 126.0 286.6 127.9 288.8 129.9 291.0 131.9 293.2 133.9 295.4 135.9 297.6 137.9 299.8 139.9 301.9 142.0 304.1 144.0 306.2 146.0 308.4 148.1 310.5 150.2 312.6 152.3 314.6 154.4 316.7 156.5 318.7 158.7 320.8 160.9 322.7 163.1 324.7 165.3 326.6 167.5 328.6 169.8 330.4 172.1 332.3 174.4 334.1 176.7 335.9 179.0 337.7 181.4 339.4 183.8 341.2 186.1 342.9 188.5 344.6 190.9 346.3 193.3 348.0 195.8 349.6 198.2 351.1 200.7 352.6 203.2 354.1 205.8 355.6 208.3 357.0 210.9 358.3 213.5 359.7 216.1 360.9 218.8 362.2 221.5 363.4 224.1 364.5 226.8 365.7 229.5 366.8 232.2 367.9 235.0 368.9 237.7 369.9 240.5 370.9 243.3 371.8 246.1 372.7 248.9 373.5 251.7 374.3 254.5 375.0 257.4 375.8 260.3 376.5 263.1 377.1 266.0 377.7 268.9" stroke="#0000ff" stroke-width="0.5"/>
<path d="M71.8 47.0 80.8 47.2 89.8 47.6 98.7 48.3 107.7 49.2 116.6 50.3 125.4 51.8 134.3 53.4 143.0 55.4 151.7 57.7 160.2 60.3 168.7 63.2 177.1 66.2 185.4 69.4 193.7 72.7 201.9 76.1 210.1 79.6 218.2 83.2 226.3 87.1 234.2 91.2 241.9 95.6 248.4 99.6 250.9 101.2 253.4 102.8 255.9 104.5 258.4 106.1 260.9 107.8 263.3 109.4 265.8 111.1 268.2 112.8 270.6 114.6 273.0 116.4 275.3 118.2 277.7 120.0 280.0 121.9 282.3 123.8 284.5 125.7 286.8 127.7 289.0 129.6 291.3 131.6 293.5 133.6 295.7 135.6 297.9 137.6 300.1 139.5 302.3 141.5 304.5 143.6 306.7 145.6 308.8 147.6 311.0 149.7 313.1 151.8 315.2 153.9 317.3 156.0 319.4 158.1 321.4 160.3 323.4 162.4 325.4 164.6 327.4 166.8 329.3 169.1 331.2 171.4 333.1 173.7 335.0 176.0 336.8 178.3 338.6 180.7 340.4 183.0 342.2 185.4 344.0 187.7 345.8 190.1 347.5 192.5 349.2 195.0 350.8 197.5 352.4 199.9 354.0 202.5 355.5 205.0 357.0 207.6 358.4 210.1 359.8 212.8 361.2 215.4 362.5 218.0 363.8 220.7 365.0 223.4 366.2 226.1 367.4 228.8 368.5 231.6 369.6 234.3 370.7 237.1 371.7 239.9 372.7 242.7 373.7 245.5 374.6 248.3 375.4 251.2 376.3 254.0 377.0 256.9 377.8 259.8 378.5 262.7 379.2 265.6 379.8 268.5" stroke="#0000ff" stroke-width="0.5"/>
<path d="M71.8 47.0 80.8 47.2 89.8 47.6 98.7 48.3 107.7 49.2 116.6 50.3 125.4 51.8 134.3 53.4 143.0 55.4 151.7 57.7 160.2 60.3 168.7 63.2 177.1 66.2 185.4 69.4 193.7 72.7 201.9 76.1 210.1 79.6 218.2 83.2 226.3 87.1 234.2 91.2 241.9 95.6 248.4 99.6 250.9 101.2 253.4 102.9 255.9 104.5 258.3 106.2 260.8 107.9 263.2 109.6 265.6 111.3 268.0 113.1 270.4 114.9 272.7 116.7 275.1 118.6 277.3 120.5 279.6 122.4 281.8 124.4 284.1 126.3 286.3 128.3 288.4 130.3 290.6 132.4 292.8 134.4 294.9 136.4 297.1 138.5 299.2 140.5 301.4 142.6 303.5 144.6 305.6 146.7 307.7 148.8 309.7 150.9 311.8 153.1 313.8 155.2 315.8 157.4 317.8 159.6 319.8 161.8 321.7 164.0 323.6 166.2 325.5 168.5 327.4 170.8 329.2 173.1 331.0 175.4 332.7 177.8 334.5 180.1 336.2 182.5 337.9 184.9 339.6 187.3 341.3 189.6 343.0 192.1 344.6 194.5 346.2 196.9 347.7 199.4 349.2 201.9 350.7 204.4 352.1 207.0 353.5 209.5 354.8 212.1 356.1 214.7 357.4 217.3 358.6 219.9 359.8 222.5 360.9 225.2 362.0 227.9 363.1 230.6 364.2 233.3 365.2 236.0 366.2 238.7 367.2 241.4 368.1 244.2 369.0 246.9 369.8 249.7 370.6 252.5 371.3 255.3 372.1 258.1 372.8 261.0 373.4 263.8 374.0 266.7 374.6 269.5" stroke="#0000ff" stroke-width="2.7"/>
<path d="M71.8 42.7 80.9 43.5 89.9 44.5 98.9 45.7 107.9 47.0 116.8 48.3 125.7 49.9 134.6 51.7 143.3 53.9 151.9 56.7 160.3 60.0 168.6 63.5 176.8 67.2 184.9 70.9 192.9 74.8 200.7 78.9 208.5 83.1 216.1 87.6 223.6 92.2 230.9 97.0 238.2 101.9 244.3 106.2 246.7 107.9 249.0 109.6 251.4 111.3 253.7 113.1 256.0 114.8 258.3 116.6 260.6 118.5 262.8 120.3 265.0 122.2 267.2 124.0 269.4 125.9 271.6 127.9 273.8 129.8 275.9 131.8 278.0 133.8 280.1 135.7 282.2 137.7 284.3 139.8 286.4 141.8 288.4 143.8 290.4 145.9 292.4 148.0 294.4 150.0 296.4 152.1 298.4 154.2 300.4 156.2 302.4 158.3 304.4 160.4 306.3 162.5 308.3 164.6 310.1 166.8 312.0 168.9 313.9 171.1 315.7 173.3 317.5 175.5 319.2 177.8 320.8 180.1 322.4 182.4 324.0 184.8 325.5 187.2 327.0 189.6 328.4 192.0 329.8 194.4 331.1 196.9 332.4 199.3 333.7 201.8 334.9 204.2 336.2 206.7 337.5 209.1 338.8 211.5 340.0 213.9 341.2 216.4 342.3 218.8 343.4 221.2 344.5 223.7 345.6 226.1 346.7 228.6 347.7 231.1 348.8 233.5 349.8 236.0 350.8 238.5 351.7 241.0 352.6 243.5 353.5 246.1 354.3 248.6 355.1 251.2 355.9 253.8 356.6 256.4 357.3 259.0 357.9 261.6 358.6 264.3 359.2 267.0 359.8 269.7 360.3 272.4" stroke="#ff00ff" stroke-width="0.5"/>
<path d="M71.8 42.7 80.9 43.5 89.9 44.5 98.9 45.7 107.9 47.0 116.8 48.3 125.7 49.9 134.6 51.7 143.3 53.9 151.9 56.7 160.3 60.0 168.6 63.5 176.8 67.2 184.9 70.9 192.9 74.8 200.7 78.9 208.5 83.1 216.1 87.5 223.6 92.1 231.1 96.8 238.4 101.6 244.5 105.8 246.9 107.5 249.3 109.2 251.6 110.9 254.0 112.6 256.3 114.4 258.6 116.1 260.9 117.9 263.2 119.8 265.4 121.6 267.7 123.5 269.9 125.3 272.1 127.2 274.3 129.2 276.4 131.1 278.6 133.1 280.7 135.0 282.8 137.0 284.9 139.0 287.0 141.0 289.1 143.0 291.2 145.1 293.2 147.1 295.2 149.2 297.3 151.2 299.3 153.3 301.3 155.4 303.3 157.4 305.3 159.5 307.2 161.6 309.2 163.7 311.1 165.9 313.0 168.0 314.8 170.2 316.7 172.4 318.5 174.6 320.2 176.9 321.9 179.2 323.5 181.5 325.0 183.9 326.6 186.3 328.1 188.7 329.5 191.1 330.9 193.6 332.3 196.1 333.6 198.5 334.8 201.0 336.1 203.5 337.5 205.9 338.8 208.3 340.0 210.8 341.2 213.2 342.4 215.6 343.6 218.1 344.7 220.6 345.9 223.0 347.0 225.5 348.0 228.0 349.1 230.5 350.2 232.9 351.2 235.4 352.2 237.9 353.1 240.5 354.0 243.0 354.9 245.6 355.8 248.1 356.6 250.7 357.3 253.3 358.1 256.0 358.8 258.6 359.5 261.3 360.1 263.9 360.7 266.6 361.3 269.3 361.8 272.1" stroke="#ff00ff" stroke-width="0.5"/>
<path d="M71.8 42.7 80.9 43.5 89.9 44.5 98.9 45.7 107.9 47.0 116.8 48.3 125.7 49.9 134.6 51.7 143.3 53.9 151.9 56.7 160.3 60.0 168.6 63.5 176.8 67.2 184.9 70.9 192.9 74.8 200.7 78.9 208.5 83.0 216.2 87.4 223.7 91.9 231.1 96.6 238.5 101.4 244.7 105.6 247.1 107.2 249.5 108.9 251.8 110.6 254.2 112.3 256.5 114.0 258.9 115.8 261.2 117.6 263.5 119.4 265.7 121.2 268.0 123.0 270.2 124.9 272.4 126.8 274.7 128.7 276.8 130.6 279.0 132.5 281.2 134.5 283.3 136.5 285.4 138.4 287.5 140.4 289.6 142.5 291.7 144.5 293.8 146.5 295.8 148.5 297.9 150.6 299.9 152.6 301.9 154.7 304.0 156.8 305.9 158.8 307.9 160.9 309.9 163.1 311.8 165.2 313.7 167.4 315.6 169.5 317.4 171.7 319.2 174.0 321.0 176.2 322.6 178.5 324.3 180.9 325.8 183.3 327.4 185.7 328.9 188.1 330.3 190.5 331.7 193.0 333.1 195.5 334.4 197.9 335.7 200.4 337.0 202.9 338.4 205.3 339.7 207.8 340.9 210.2 342.2 212.7 343.4 215.1 344.6 217.6 345.7 220.1 346.8 222.5 348.0 225.0 349.0 227.5 350.1 230.0 351.2 232.5 352.2 235.0 353.2 237.5 354.2 240.1 355.1 242.6 356.0 245.2 356.8 247.8 357.6 250.4 358.4 253.0 359.2 255.7 359.9 258.3 360.6 261.0 361.2 263.7 361.8 266.4 362.4 269.1 363.0 271.8" stroke="#ff00ff" stroke-width="0.5"/>
<path d="M71.8 42.7 80.9 43.5 89.9 44.5 98.9 45.7 107.9 47.0 116.8 48.3 125.7 49.9 134.6 51.7 143.3 53.9 151.9 56.7 160.3 60.0 168.6 63.5 176.8 67.2 184.9 70.9 192.9 74.8 200.8 78.8 208.5 83.0 216.2 87.3 223.8 91.8 231.2 96.4 238.6 101.2 244.9 105.3 247.3 106.9 249.7 108.6 252.1 110.3 254.4 112.0 256.8 113.7 259.1 115.4 261.5 117.2 263.8 119.0 266.1 120.8 268.3 122.6 270.6 124.4 272.8 126.3 275.1 128.2 277.3 130.1 279.4 132.0 281.6 133.9 283.8 135.9 285.9 137.9 288.1 139.8 290.2 141.8 292.3 143.8 294.4 145.8 296.5 147.9 298.5 149.9 300.6 151.9 302.6 154.0 304.6 156.1 306.7 158.1 308.6 160.2 310.6 162.4 312.5 164.5 314.4 166.7 316.3 168.9 318.2 171.1 320.0 173.3 321.8 175.6 323.5 177.9 325.1 180.2 326.7 182.6 328.2 185.0 329.7 187.4 331.2 189.9 332.6 192.3 334.0 194.8 335.3 197.3 336.6 199.8 338.0 202.3 339.3 204.7 340.6 207.2 341.9 209.6 343.2 212.1 344.4 214.6 345.6 217.0 346.7 219.5 347.9 222.0 349.0 224.5 350.1 227.0 351.2 229.5 352.3 232.0 353.3 234.6 354.3 237.1 355.3 239.7 356.2 242.2 357.1 244.8 358.0 247.4 358.8 250.1 359.6 252.7 360.3 255.3 361.1 258.0 361.7 260.7 362.4 263.4 363.0 266.1 363.6 268.9 364.2 271.6" stroke="#ff00ff" stroke-width="0.5"/>
<path d="M71.8 42.7 80.9 43.5 89.9 44.5 98.9 45.7 107.9 47.0 116.8 48.3 125.7 49.9 134.6 51.7 143.3 53.9 151.9 56.7 160.3 60.0 168.6 63.5 176.8 67.2 184.9 70.9 192.9 74.8 200.8 78.8 208.5 83.0 216.2 87.3 223.8 91.7 231.3 96.3 238.7 101.0 245.0 105.1 247.4 106.7 249.8 108.4 252.2 110.0 254.6 111.7 257.0 113.4 259.3 115.1 261.7 116.9 264.0 118.7 266.3 120.5 268.6 122.3 270.8 124.1 273.1 126.0 275.3 127.8 277.5 129.7 279.8 131.6 281.9 133.6 284.1 135.5 286.3 137.4 288.4 139.4 290.6 141.4 292.7 143.4 294.8 145.4 296.9 147.4 299.0 149.4 301.0 151.5 303.1 153.5 305.1 155.6 307.1 157.7 309.1 159.8 311.1 161.9 313.1 164.0 315.0 166.2 316.9 168.4 318.7 170.6 320.5 172.8 322.3 175.1 324.0 177.4 325.7 179.8 327.3 182.1 328.8 184.6 330.3 187.0 331.8 189.4 333.3 191.9 334.6 194.4 336.0 196.9 337.3 199.4 338.6 201.8 340.0 204.3 341.3 206.8 342.6 209.2 343.8 211.7 345.1 214.2 346.3 216.7 347.5 219.2 348.6 221.7 349.7 224.2 350.8 226.7 351.9 229.2 353.0 231.7 354.1 234.3 355.1 236.8 356.1 239.4 357.0 242.0 357.9 244.6 358.8 247.2 359.6 249.8 360.4 252.5 361.1 255.1 361.9 257.8 362.6 260.5 363.2 263.2 363.8 265.9 364.4 268.7 365.0 271.4" stroke="#ff00ff" stroke-width="0.5"/>
<path d="M71.8 42.7 80.9 43.5 89.9 44.5 98.9 45.7 107.9 47.0 116.8 48.3 125.7 49.9 134.6 51.7 143.3 53.9 151.9 56.7 160.3 60.0 168.6 63.5 176.8 67.2 184.9 70.9 192.9 74.8 200.8 78.8 208.6 82.9 216.3 87.2 223.9 91.6 231.4 96.1 238.8 100.8 245.1 104.8 247.6 106.4 250.0 108.1 252.4 109.7 254.8 111.4 257.2 113.1 259.6 114.8 261.9 116.5 264.3 118.2 266.6 120.0 268.9 121.8 271.2 123.6 273.5 125.5 275.7 127.3 278.0 129.2 280.2 131.1 282.4 133.0 284.6 134.9 286.8 136.8 289.0 138.8 291.1 140.8 293.3 142.7 295.4 144.7 297.5 146.7 299.6 148.7 301.7 150.8 303.8 152.8 305.8 154.9 307.8 157.0 309.9 159.1 311.8 161.2 313.8 163.3 315.7 165.5 317.6 167.7 319.5 169.9 321.3 172.1 323.1 174.4 324.8 176.7 326.5 179.1 328.1 181.5 329.7 183.9 331.2 186.3 332.7 188.8 334.1 191.2 335.5 193.7 336.9 196.2 338.2 198.7 339.6 201.2 340.9 203.7 342.3 206.2 343.6 208.6 344.8 211.1 346.1 213.6 347.3 216.1 348.5 218.6 349.6 221.1 350.8 223.7 351.9 226.2 353.0 228.7 354.1 231.3 355.2 233.8 356.2 236.4 357.2 239.0 358.1 241.6 359.0 244.2 359.9 246.8 360.8 249.5 361.6 252.1 362.3 254.8 363.0 257.5 363.7 260.2 364.4 262.9 365.0 265.7 365.6 268.4 366.2 271.2" stroke="#ff00ff" stroke-width="0.5"/>
<path d="M71.8 42.7 80.9 43.5 89.9 44.5 98.9 45.7 107.9 47.0 116.8 48.3 125.7 49.9 134.6 51.7 143.3 53.9 151.9 56.7 160.3 60.0 168.6 63.5 176.8 67.2 184.9 70.9 192.9 74.8 200.8 78.8 208.6 82.9 216.3 87.1 223.9 91.5 231.5 96.0 239.0 100.6 245.3 104.6 247.8 106.2 250.2 107.8 252.6 109.4 255.0 111.1 257.4 112.7 259.8 114.4 262.2 116.1 264.6 117.9 266.9 119.6 269.2 121.4 271.5 123.2 273.8 125.0 276.1 126.8 278.4 128.7 280.6 130.6 282.9 132.5 285.1 134.4 287.3 136.3 289.5 138.2 291.7 140.2 293.8 142.1 296.0 144.1 298.1 146.1 300.3 148.1 302.4 150.1 304.4 152.1 306.5 154.2 308.5 156.3 310.5 158.4 312.5 160.5 314.5 162.7 316.4 164.8 318.4 167.0 320.2 169.2 322.1 171.5 323.9 173.7 325.6 176.1 327.3 178.4 328.9 180.8 330.5 183.3 332.0 185.7 333.5 188.1 335.0 190.6 336.4 193.1 337.8 195.6 339.1 198.2 340.5 200.6 341.8 203.1 343.2 205.6 344.5 208.1 345.8 210.6 347.0 213.1 348.3 215.6 349.5 218.1 350.6 220.7 351.8 223.2 352.9 225.7 354.0 228.3 355.1 230.8 356.2 233.4 357.3 236.0 358.2 238.6 359.2 241.2 360.1 243.8 361.0 246.5 361.9 249.1 362.7 251.8 363.4 254.5 364.2 257.2 364.9 259.9 365.5 262.7 366.2 265.4 366.8 268.2 367.4 271.0" stroke="#ff00ff" stroke-width="0.5"/>
<path d="M71.8 42.7 80.9 43.5 89.9 44.5 98.9 45.7 107.9 47.0 116.8 48.3 125.7 49.9 134.6 51.7 143.3 53.9 151.9 56.7 160.3 60.0 168.6 63.5 176.8 67.2 184.9 70.9 192.9 74.8 200.8 78.8 208.6 82.9 216.3 87.1 224.0 91.4 231.6 95.8 239.1 100.3 245.5 104.3 247.9 105.9 250.4 107.5 252.9 109.1 255.3 110.7 257.7 112.3 260.1 114.0 262.5 115.7 264.9 117.4 267.2 119.2 269.6 120.9 271.9 122.7 274.2 124.5 276.5 126.3 278.8 128.1 281.1 130.0 283.3 131.9 285.6 133.8 287.8 135.7 290.0 137.6 292.2 139.5 294.4 141.4 296.6 143.4 298.8 145.4 300.9 147.3 303.1 149.4 305.1 151.4 307.2 153.5 309.3 155.6 311.3 157.7 313.3 159.8 315.3 161.9 317.2 164.1 319.2 166.3 321.1 168.5 322.9 170.7 324.7 173.0 326.5 175.4 328.2 177.7 329.8 180.1 331.4 182.6 332.9 185.0 334.5 187.5 335.9 189.9 337.3 192.5 338.7 195.0 340.1 197.5 341.4 200.0 342.8 202.5 344.2 205.0 345.5 207.5 346.8 210.0 348.1 212.5 349.3 215.0 350.5 217.6 351.7 220.1 352.9 222.7 354.0 225.2 355.2 227.8 356.3 230.3 357.4 232.9 358.4 235.5 359.4 238.1 360.4 240.8 361.3 243.4 362.2 246.1 363.1 248.7 363.9 251.4 364.7 254.1 365.4 256.9 366.1 259.6 366.8 262.4 367.4 265.1 368.0 267.9 368.6 270.7" stroke="#ff00ff" stroke-width="0.5"/>
<path d="M71.8 42.7 80.9 43.5 89.9 44.5 98.9 45.7 107.9 47.0 116.8 48.3 125.7 49.9 134.6 51.7 143.3 53.9 151.9 56.7 160.3 60.0 168.6 63.5 176.8 67.2 184.9 70.9 192.9 74.8 200.8 78.8 208.6 82.8 216.4 87.0 224.1 91.3 231.7 95.7 239.2 100.2 245.6 104.1 248.1 105.6 250.6 107.2 253.0 108.8 255.5 110.4 257.9 112.0 260.3 113.7 262.7 115.4 265.1 117.1 267.5 118.8 269.9 120.5 272.2 122.3 274.5 124.1 276.9 125.9 279.2 127.7 281.4 129.5 283.7 131.4 286.0 133.3 288.2 135.2 290.5 137.1 292.7 139.0 294.9 140.9 297.1 142.8 299.3 144.8 301.5 146.8 303.6 148.8 305.7 150.8 307.8 152.9 309.8 155.0 311.9 157.1 313.9 159.2 315.9 161.4 317.9 163.5 319.8 165.7 321.7 167.9 323.6 170.2 325.4 172.5 327.1 174.8 328.8 177.2 330.5 179.6 332.1 182.0 333.6 184.5 335.2 186.9 336.7 189.4 338.1 191.9 339.5 194.5 340.8 197.0 342.2 199.5 343.6 202.0 345.0 204.5 346.3 207.0 347.6 209.5 348.9 212.0 350.2 214.6 351.4 217.1 352.6 219.7 353.8 222.2 354.9 224.8 356.0 227.4 357.2 230.0 358.3 232.5 359.3 235.2 360.3 237.8 361.3 240.4 362.3 243.1 363.1 245.8 364.0 248.5 364.8 251.2 365.6 253.9 366.4 256.6 367.1 259.4 367.8 262.1 368.4 264.9 369.0 267.7 369.6 270.5" stroke="#ff00ff" stroke-width="0.5"/>
<path d="M71.8 42.7 80.9 43.5 89.9 44.5 98.9 45.7 107.9 47.0 116.8 48.3 125.7 49.9 134.6 51.7 143.3 53.9 151.9 56.7 160.3 60.0 168.6 63.5 176.8 67.2 184.9 70.9 192.9 74.8 200.8 78.8 208.5 83.0 216.2 87.3 223.8 91.7 231.3 96.3 238.7 101.0 245.0 105.1 247.4 106.7 249.8 108.4 252.2 110.0 254.6 111.7 257.0 113.4 259.3 115.2 261.7 116.9 264.0 118.7 266.3 120.5 268.6 122.3 270.8 124.1 273.1 126.0 275.3 127.8 277.5 129.7 279.8 131.6 281.9 133.6 284.1 135.5 286.3 137.4 288.4 139.4 290.6 141.4 292.7 143.4 294.8 145.4 296.9 147.4 299.0 149.4 301.0 151.5 303.1 153.5 305.1 155.6 307.1 157.7 309.1 159.8 311.1 161.9 313.0 164.0 315.0 166.2 316.9 168.4 318.7 170.6 320.5 172.8 322.3 175.1 324.0 177.4 325.7 179.8 327.3 182.1 328.8 184.6 330.3 187.0 331.8 189.4 333.3 191.9 334.6 194.4 336.0 196.9 337.3 199.4 338.6 201.8 340.0 204.3 341.3 206.8 342.6 209.2 343.8 211.7 345.1 214.2 346.3 216.7 347.4 219.2 348.6 221.7 349.7 224.2 350.8 226.7 351.9 229.2 353.0 231.7 354.1 234.3 355.1 236.8 356.1 239.4 357.0 242.0 357.9 244.6 358.8 247.2 359.6 249.8 360.4 252.5 361.1 255.1 361.9 257.8 362.6 260.5 363.2 263.2 363.8 265.9 364.4 268.7 365.0 271.4" stroke="#ff00ff" stroke-width="2.7"/>
<path d="M71.8 48.7 80.7 48.9 89.7 49.3 98.6 49.9 107.5 50.7 116.4 51.4 125.4 52.1 134.4 52.9 143.3 54.0 152.2 55.4 161.1 57.1 169.9 59.1 178.6 61.5 187.2 64.4 195.7 67.6 204.1 70.9 212.5 74.4 220.8 77.9 229.1 81.7 237.3 85.7 245.3 89.9 252.1 93.7 254.7 95.2 257.3 96.8 260.0 98.3 262.5 99.9 265.1 101.5 267.7 103.1 270.3 104.8 272.8 106.4 275.4 108.1 277.9 109.8 280.5 111.4 283.1 113.1 285.6 114.8 288.1 116.5 290.7 118.2 293.2 120.0 295.6 121.8 298.1 123.7 300.5 125.6 302.8 127.5 305.1 129.5 307.4 131.6 309.6 133.7 311.8 135.8 314.0 137.9 316.1 140.2 318.1 142.5 320.1 144.8 322.1 147.1 324.0 149.5 325.9 151.9 327.8 154.4 329.6 156.8 331.4 159.3 333.2 161.8 334.9 164.3 336.7 166.9 338.4 169.4 340.0 172.0 341.7 174.5 343.2 177.1 344.8 179.8 346.2 182.5 347.6 185.2 348.9 187.9 350.2 190.7 351.5 193.5 352.7 196.3 353.8 199.1 354.9 201.9 355.9 204.7 356.9 207.6 357.8 210.5 358.7 213.3 359.6 216.2 360.3 219.1 361.0 222.0 361.7 224.9 362.4 227.8 363.2 230.5 364.0 233.3 364.8 236.1 365.5 238.9 366.2 241.8 366.8 244.6 367.5 247.4 368.1 250.2 368.6 253.0 369.2 255.9 369.7 258.7 370.2 261.6 370.6 264.4 371.1 267.3 371.5 270.1" stroke="#ff8000" stroke-width="0.5"/>
<path d="M71.8 48.7 80.7 48.9 89.7 49.3 98.6 49.9 107.5 50.7 116.4 51.4 125.4 52.1 134.4 52.9 143.3 54.0 152.2 55.4 161.1 57.1 169.9 59.1 178.6 61.5 187.2 64.4 195.7 67.6 204.1 70.9 212.5 74.4 220.8 77.9 229.1 81.7 237.3 85.7 245.3 89.9 252.1 93.7 254.7 95.2 257.3 96.8 260.0 98.3 262.5 99.9 265.1 101.5 267.7 103.1 270.3 104.8 272.8 106.4 275.4 108.1 277.9 109.8 280.5 111.4 283.1 113.1 285.6 114.8 288.1 116.5 290.7 118.2 293.2 120.0 295.6 121.8 298.1 123.7 300.5 125.6 302.8 127.5 305.1 129.5 307.4 131.6 309.6 133.7 311.8 135.8 314.0 137.9 316.1 140.1 318.2 142.4 320.2 144.7 322.2 147.0 324.2 149.4 326.2 151.7 328.1 154.1 330.0 156.5 331.8 159.0 333.6 161.4 335.5 163.9 337.3 166.4 339.0 168.9 340.8 171.4 342.5 173.9 344.1 176.5 345.7 179.1 347.3 181.7 348.8 184.4 350.2 187.1 351.5 189.8 352.8 192.6 354.1 195.4 355.4 198.1 356.5 200.9 357.6 203.8 358.7 206.6 359.7 209.4 360.7 212.3 361.6 215.2 362.4 218.1 363.2 221.0 364.0 223.9 364.7 226.8 365.6 229.6 366.5 232.4 367.3 235.2 368.1 238.0 368.9 240.8 369.6 243.7 370.3 246.5 371.0 249.4 371.6 252.2 372.2 255.1 372.8 257.9 373.3 260.8 373.9 263.7 374.3 266.6 374.8 269.5" stroke="#ff8000" stroke-width="0.5"/>
<path d="M71.8 48.7 80.7 48.9 89.7 49.3 98.6 49.9 107.5 50.7 116.4 51.4 125.4 52.1 134.4 52.9 143.3 54.0 152.2 55.4 161.1 57.1 169.9 59.1 178.6 61.5 187.2 64.4 195.7 67.6 204.1 70.9 212.5 74.4 220.8 77.9 229.1 81.7 237.3 85.7 245.3 89.9 252.1 93.7 254.7 95.2 257.3 96.8 260.0 98.3 262.5 99.9 265.1 101.5 267.7 103.1 270.3 104.8 272.8 106.4 275.4 108.1 277.9 109.8 280.5 111.4 283.1 113.1 285.6 114.8 288.1 116.5 290.7 118.2 293.2 120.0 295.6 121.8 298.1 123.7 300.5 125.6 302.8 127.5 305.1 129.5 307.4 131.6 309.6 133.7 311.8 135.8 314.0 137.9 316.1 140.1 318.2 142.4 320.3 144.6 322.3 146.9 324.3 149.3 326.3 151.6 328.2 154.0 330.1 156.4 332.0 158.8 333.9 161.2 335.8 163.6 337.6 166.1 339.4 168.5 341.2 171.0 342.9 173.5 344.7 176.1 346.3 178.6 347.9 181.3 349.4 183.9 350.9 186.6 352.3 189.3 353.6 192.1 355.0 194.8 356.2 197.6 357.5 200.4 358.6 203.2 359.8 206.0 360.8 208.9 361.8 211.7 362.8 214.6 363.7 217.5 364.5 220.4 365.3 223.3 366.0 226.2 367.0 229.0 367.9 231.8 368.8 234.6 369.7 237.5 370.5 240.3 371.2 243.1 372.0 246.0 372.7 248.9 373.4 251.7 374.0 254.6 374.6 257.5 375.2 260.4 375.7 263.3 376.2 266.2 376.7 269.1" stroke="#ff8000" stroke-width="0.5"/>
<path d="M71.8 48.7 80.7 48.9 89.7 49.3 98.6 49.9 107.5 50.7 116.4 51.4 125.4 52.1 134.4 52.9 143.3 54.0 152.2 55.4 161.1 57.1 169.9 59.1 178.6 61.5 187.2 64.4 195.7 67.6 204.1 70.9 212.5 74.4 220.8 77.9 229.1 81.7 237.3 85.7 245.3 89.9 252.1 93.7 254.7 95.2 257.3 96.8 260.0 98.3 262.5 99.9 265.1 101.5 267.7 103.1 270.3 104.8 272.8 106.4 275.4 108.1 277.9 109.8 280.5 111.4 283.1 113.1 285.6 114.8 288.1 116.5 290.7 118.2 293.2 120.0 295.6 121.8 298.1 123.7 300.5 125.6 302.8 127.5 305.1 129.5 307.4 131.6 309.6 133.7 311.8 135.8 314.0 137.9 316.2 140.1 318.2 142.4 320.3 144.6 322.3 146.9 324.3 149.2 326.3 151.6 328.3 153.9 330.2 156.3 332.1 158.7 334.0 161.1 335.9 163.6 337.7 166.0 339.5 168.4 341.3 170.9 343.1 173.4 344.8 175.9 346.5 178.5 348.1 181.1 349.6 183.8 351.1 186.5 352.5 189.2 353.9 191.9 355.2 194.7 356.5 197.4 357.8 200.2 358.9 203.0 360.1 205.8 361.1 208.7 362.2 211.5 363.1 214.4 364.0 217.3 364.9 220.2 365.7 223.1 366.4 226.0 367.4 228.8 368.4 231.6 369.3 234.5 370.1 237.3 370.9 240.1 371.7 243.0 372.5 245.8 373.2 248.7 373.9 251.6 374.5 254.5 375.2 257.4 375.7 260.3 376.3 263.2 376.8 266.1 377.3 269.0" stroke="#ff8000" stroke-width="0.5"/>
<path d="M71.8 48.7 80.7 48.9 89.7 49.3 98.6 49.9 107.5 50.7 116.4 51.4 125.4 52.1 134.4 52.9 143.3 54.0 152.2 55.4 161.1 57.1 169.9 59.1 178.6 61.5 187.2 64.4 195.7 67.6 204.1 70.9 212.5 74.4 220.8 77.9 229.1 81.7 237.3 85.7 245.3 89.9 252.1 93.7 254.7 95.2 257.3 96.8 260.0 98.3 262.5 99.9 265.1 101.5 267.7 103.1 270.3 104.8 272.8 106.4 275.4 108.1 277.9 109.8 280.5 111.4 283.1 113.1 285.6 114.8 288.1 116.5 290.7 118.2 293.2 120.0 295.6 121.8 298.1 123.7 300.5 125.6 302.8 127.5 305.1 129.5 307.4 131.6 309.6 133.7 311.8 135.8 314.0 137.9 316.2 140.1 318.3 142.3 320.4 144.6 322.4 146.8 324.4 149.1 326.4 151.5 328.4 153.8 330.4 156.2 332.3 158.5 334.2 160.9 336.1 163.3 338.0 165.7 339.9 168.2 341.7 170.6 343.5 173.1 345.3 175.6 347.0 178.2 348.6 180.7 350.2 183.4 351.7 186.0 353.1 188.7 354.6 191.5 356.0 194.2 357.3 196.9 358.6 199.7 359.8 202.5 361.0 205.3 362.1 208.2 363.1 211.0 364.1 213.9 365.1 216.8 366.0 219.7 366.8 222.6 367.6 225.5 368.6 228.3 369.6 231.2 370.5 234.0 371.4 236.8 372.3 239.7 373.1 242.5 373.9 245.4 374.7 248.3 375.4 251.2 376.1 254.1 376.7 257.0 377.3 259.9 377.9 262.8 378.5 265.7 379.0 268.6" stroke="#ff8000" stroke-width="0.5"/>
<path d="M71.8 48.7 80.7 48.9 89.7 49.3 98.6 49.9 107.5 50.7 116.4 51.4 125.4 52.1 134.4 52.9 143.3 54.0 152.2 55.4 161.1 57.1 169.9 59.1 178.6 61.5 187.2 64.4 195.7 67.6 204.1 70.9 212.5 74.4 220.8 77.9 229.1 81.7 237.3 85.7 245.3 89.9 252.1 93.7 254.7 95.2 257.3 96.8 260.0 98.3 262.5 99.9 265.1 101.5 267.7 103.1 270.3 104.8 272.8 106.4 275.4 108.1 277.9 109.8 280.5 111.4 283.1 113.1 285.6 114.8 288.1 116.5 290.7 118.2 293.2 120.0 295.6 121.8 298.1 123.7 300.5 125.6 302.8 127.5 305.1 129.5 307.4 131.6 309.6 133.7 311.8 135.8 314.0 137.9 316.2 140.1 318.3 142.3 320.4 144.5 322.5 146.8 324.6 149.0 326.6 151.3 328.6 153.6 330.6 156.0 332.6 158.3 334.5 160.7 336.5 163.0 338.4 165.4 340.3 167.8 342.2 170.2 344.0 172.7 345.9 175.1 347.6 177.7 349.3 180.2 350.9 182.8 352.5 185.5 354.0 188.2 355.5 190.9 356.9 193.6 358.3 196.3 359.7 199.1 361.0 201.9 362.2 204.7 363.3 207.5 364.5 210.4 365.5 213.2 366.5 216.1 367.4 219.0 368.3 221.9 369.1 224.9 370.2 227.7 371.3 230.5 372.3 233.3 373.2 236.2 374.1 239.1 375.0 241.9 375.8 244.8 376.6 247.7 377.4 250.6 378.1 253.5 378.8 256.5 379.5 259.4 380.1 262.3 380.7 265.3 381.2 268.2" stroke="#ff8000" stroke-width="0.5"/>
<path d="M71.8 48.7 80.7 48.9 89.7 49.3 98.6 49.9 107.5 50.7 116.4 51.4 125.4 52.1 134.4 52.9 143.3 54.0 152.2 55.4 161.1 57.1 169.9 59.1 178.6 61.5 187.2 64.4 195.7 67.6 204.1 70.9 212.5 74.4 220.8 77.9 229.1 81.7 237.3 85.7 245.3 89.9 252.1 93.7 254.7 95.2 257.3 96.8 260.0 98.3 262.5 99.9 265.1 101.5 267.7 103.1 270.3 104.8 272.8 106.4 275.4 108.1 277.9 109.8 280.5 111.4 283.1 113.1 285.6 114.8 288.1 116.5 290.7 118.2 293.2 120.0 295.6 121.8 298.1 123.7 300.5 125.6 302.8 127.5 305.1 129.5 307.4 131.6 309.6 133.7 311.8 135.8 314.0 137.9 316.2 140.1 318.4 142.2 320.5 144.4 322.6 146.6 324.7 148.9 326.8 151.1 328.8 153.4 330.9 155.7 332.9 158.0 334.9 160.3 336.9 162.7 338.9 165.0 340.9 167.4 342.8 169.7 344.7 172.1 346.6 174.6 348.4 177.1 350.2 179.6 351.9 182.2 353.5 184.8 355.1 187.4 356.7 190.1 358.2 192.8 359.6 195.5 361.0 198.3 362.4 201.0 363.7 203.8 364.9 206.7 366.1 209.5 367.2 212.4 368.3 215.3 369.3 218.2 370.2 221.1 371.1 224.0 372.2 226.9 373.3 229.7 374.4 232.5 375.4 235.4 376.4 238.3 377.4 241.2 378.3 244.1 379.1 247.0 379.9 249.9 380.7 252.9 381.4 255.8 382.1 258.7 382.8 261.7 383.4 264.7 384.0 267.6" stroke="#ff8000" stroke-width="0.5"/>
<path d="M71.8 48.7 80.7 48.9 89.7 49.3 98.6 49.9 107.5 50.7 116.4 51.4 125.4 52.1 134.4 52.9 143.3 54.0 152.2 55.4 161.1 57.1 169.9 59.1 178.6 61.5 187.2 64.4 195.7 67.6 204.1 70.9 212.5 74.4 220.8 77.9 229.1 81.7 237.3 85.7 245.3 89.9 252.1 93.7 254.7 95.2 257.3 96.8 260.0 98.3 262.5 99.9 265.1 101.5 267.7 103.1 270.3 104.8 272.8 106.4 275.4 108.1 277.9 109.8 280.5 111.4 283.1 113.1 285.6 114.8 288.1 116.5 290.7 118.2 293.2 120.0 295.6 121.8 298.1 123.7 300.5 125.6 302.8 127.5 305.1 129.5 307.4 131.6 309.6 133.7 311.8 135.8 314.0 137.9 316.2 140.0 318.4 142.2 320.6 144.4 322.7 146.6 324.8 148.8 326.9 151.0 329.0 153.2 331.1 155.5 333.1 157.8 335.2 160.1 337.2 162.4 339.3 164.7 341.3 167.0 343.3 169.4 345.2 171.7 347.2 174.2 349.0 176.6 350.9 179.1 352.6 181.7 354.3 184.3 355.9 186.9 357.5 189.5 359.1 192.2 360.6 194.9 362.1 197.6 363.5 200.4 364.8 203.2 366.1 206.0 367.3 208.9 368.5 211.7 369.6 214.6 370.6 217.6 371.6 220.5 372.5 223.4 373.7 226.3 374.9 229.1 376.0 231.9 377.1 234.8 378.1 237.7 379.1 240.6 380.0 243.5 380.9 246.5 381.8 249.4 382.6 252.4 383.4 255.3 384.1 258.3 384.8 261.3 385.5 264.2 386.1 267.2" stroke="#ff8000" stroke-width="0.5"/>
<path d="M71.8 48.7 80.7 48.9 89.7 49.3 98.6 49.9 107.5 50.7 116.4 51.4 125.4 52.1 134.4 52.9 143.3 54.0 152.2 55.4 161.1 57.1 169.9 59.1 178.6 61.5 187.2 64.4 195.7 67.6 204.1 70.9 212.5 74.4 220.8 77.9 229.1 81.7 237.3 85.7 245.3 89.9 252.1 93.7 254.7 95.2 257.3 96.8 260.0 98.3 262.5 99.9 265.1 101.5 267.7 103.1 270.3 104.8 272.8 106.4 275.4 108.1 277.9 109.8 280.5 111.4 283.1 113.1 285.6 114.8 288.1 116.5 290.7 118.2 293.2 120.0 295.6 121.8 298.1 123.7 300.5 125.6 302.8 127.5 305.1 129.5 307.4 131.6 309.6 133.7 311.8 135.8 314.1 137.9 316.2 140.0 318.4 142.2 320.6 144.4 322.7 146.5 324.9 148.7 327.0 151.0 329.1 153.2 331.2 155.5 333.2 157.7 335.3 160.0 337.3 162.3 339.4 164.6 341.4 166.9 343.4 169.3 345.4 171.6 347.3 174.0 349.2 176.5 351.1 179.0 352.8 181.5 354.5 184.1 356.2 186.7 357.8 189.4 359.4 192.0 360.9 194.7 362.4 197.5 363.8 200.2 365.1 203.0 366.4 205.8 367.7 208.7 368.9 211.6 370.0 214.5 371.0 217.4 372.0 220.3 373.0 223.2 374.2 226.1 375.4 228.9 376.5 231.8 377.6 234.6 378.6 237.5 379.6 240.4 380.6 243.4 381.5 246.3 382.3 249.2 383.2 252.2 384.0 255.2 384.7 258.1 385.4 261.1 386.1 264.1 386.7 267.1" stroke="#ff8000" stroke-width="0.5"/>
<path d="M71.8 48.7 80.7 48.9 89.7 49.3 98.6 49.9 107.5 50.7 116.4 51.4 125.4 52.1 134.4 52.9 143.3 54.0 152.2 55.4 161.1 57.1 169.9 59.1 178.6 61.5 187.2 64.4 195.7 67.6 204.1 70.9 212.5 74.4 220.8 77.9 229.1 81.7 237.3 85.7 245.3 89.9 252.1 93.7 254.7 95.2 257.3 96.8 260.0 98.3 262.5 99.9 265.1 101.5 267.7 103.1 270.3 104.8 272.8 106.4 275.4 108.1 277.9 109.8 280.5 111.4 283.1 113.1 285.6 114.8 288.1 116.5 290.7 118.2 293.2 120.0 295.6 121.8 298.1 123.7 300.5 125.6 302.8 127.5 305.1 129.5 307.4 131.6 309.6 133.7 311.8 135.8 314.1 137.9 316.3 140.0 318.5 142.1 320.7 144.3 322.8 146.4 325.0 148.6 327.2 150.8 329.3 153.0 331.4 155.2 333.6 157.4 335.7 159.7 337.8 161.9 339.9 164.2 342.0 166.4 344.0 168.7 346.1 171.1 348.1 173.4 350.1 175.8 352.0 178.3 353.8 180.8 355.6 183.4 357.3 186.0 359.0 188.6 360.6 191.2 362.2 193.9 363.8 196.6 365.3 199.4 366.7 202.2 368.1 205.0 369.4 207.8 370.6 210.7 371.8 213.6 372.9 216.5 374.0 219.4 375.0 222.4 376.3 225.2 377.5 228.1 378.7 230.9 379.9 233.8 381.0 236.7 382.0 239.7 383.1 242.6 384.0 245.6 385.0 248.5 385.8 251.5 386.7 254.5 387.5 257.5 388.2 260.5 389.0 263.5 389.6 266.5" stroke="#ff8000" stroke-width="0.5"/>
<path d="M71.8 48.7 80.7 48.9 89.7 49.3 98.6 49.9 107.5 50.7 116.4 51.4 125.4 52.1 134.4 52.9 143.3 54.0 152.2 55.4 161.1 57.1 169.9 59.1 178.6 61.5 187.2 64.4 195.7 67.6 204.1 70.9 212.5 74.4 220.8 77.9 229.1 81.7 237.3 85.7 245.3 89.9 252.1 93.7 254.7 95.2 257.3 96.8 260.0 98.3 262.5 99.9 265.1 101.5 267.7 103.1 270.3 104.8 272.8 106.4 275.4 108.1 277.9 109.8 280.5 111.4 283.1 113.1 285.6 114.8 288.1 116.5 290.7 118.2 293.2 120.0 295.6 121.8 298.1 123.7 300.5 125.6 302.8 127.5 305.1 129.5 307.4 131.6 309.6 133.7 311.8 135.8 314.0 137.9 316.2 140.0 318.4 142.2 320.5 144.4 322.7 146.6 324.8 148.8 326.8 151.1 328.9 153.3 331.0 155.6 333.0 157.9 335.0 160.2 337.0 162.5 339.0 164.9 341.0 167.2 343.0 169.6 344.9 172.0 346.8 174.4 348.7 176.9 350.5 179.4 352.2 181.9 353.9 184.6 355.5 187.2 357.0 189.9 358.6 192.5 360.0 195.3 361.5 198.0 362.8 200.8 364.2 203.6 365.4 206.4 366.6 209.2 367.7 212.1 368.8 215.0 369.8 217.9 370.8 220.8 371.7 223.8 372.9 226.6 374.0 229.4 375.1 232.3 376.1 235.2 377.1 238.0 378.1 240.9 379.0 243.9 379.9 246.8 380.7 249.7 381.5 252.6 382.3 255.6 383.0 258.6 383.7 261.5 384.3 264.5 384.9 267.5" stroke="#ff8000" stroke-width="2.7"/>
<path d="M71.8 42.5 80.9 43.6 89.9 44.8 98.9 46.2 107.8 47.8 116.7 49.5 125.5 51.4 134.3 53.5 142.9 55.8 151.5 58.6 159.9 61.5 168.3 64.7 176.6 67.9 184.8 71.1 193.0 74.5 201.1 77.9 209.3 81.4 217.3 85.1 225.3 88.9 233.2 92.9 241.1 97.0 247.9 100.5 250.5 101.8 253.2 103.2 255.8 104.6 258.4 106.0 261.0 107.5 263.6 109.0 266.2 110.6 268.7 112.2 271.1 113.9 273.6 115.6 276.0 117.3 278.4 119.1 280.8 120.9 283.2 122.7 285.5 124.5 287.9 126.4 290.2 128.2 292.5 130.1 294.8 132.0 297.1 134.0 299.4 135.9 301.6 137.9 303.8 139.9 306.0 142.0 308.1 144.1 310.2 146.2 312.3 148.4 314.3 150.6 316.3 152.8 318.3 155.0 320.3 157.3 322.2 159.5 324.1 161.8 326.0 164.2 327.8 166.5 329.6 168.9 331.4 171.2 333.1 173.7 334.9 176.1 336.6 178.5 338.2 181.0 339.8 183.5 341.4 186.0 342.9 188.5 344.4 191.1 345.9 193.6 347.3 196.2 348.7 198.8 350.1 201.4 351.4 204.0 352.7 206.6 354.0 209.2 355.2 211.9 356.4 214.5 357.5 217.2 358.7 219.9 359.7 222.6 360.8 225.3 361.7 228.0 362.7 230.7 363.6 233.5 364.5 236.2 365.3 239.0 366.1 241.8 366.9 244.5 367.6 247.3 368.3 250.1 369.0 252.9 369.6 255.8 370.2 258.6 370.8 261.4 371.4 264.3 371.9 267.1 372.4 270.0" stroke="#ff0000" stroke-width="0.5"/>
<path d="M71.8 42.5 80.9 43.6 89.9 44.8 98.9 46.2 107.8 47.8 116.7 49.5 125.5 51.4 134.3 53.5 142.9 55.8 151.5 58.6 159.9 61.5 168.3 64.7 176.6 67.9 184.8 71.1 193.0 74.5 201.1 77.9 209.3 81.4 217.3 85.1 225.3 88.9 233.2 92.9 241.1 97.0 247.9 100.5 250.5 101.8 253.2 103.2 255.8 104.6 258.4 106.0 261.0 107.5 263.6 109.0 266.2 110.6 268.7 112.2 271.1 113.9 273.6 115.6 276.0 117.3 278.4 119.1 280.8 120.9 283.2 122.7 285.5 124.5 287.9 126.4 290.2 128.2 292.5 130.1 294.8 132.0 297.1 134.0 299.4 135.9 301.6 137.9 303.8 139.9 306.0 142.0 308.1 144.1 310.3 146.2 312.4 148.3 314.4 150.4 316.5 152.6 318.5 154.8 320.5 157.0 322.5 159.3 324.4 161.5 326.4 163.8 328.2 166.1 330.1 168.4 331.9 170.8 333.7 173.2 335.5 175.6 337.3 178.0 339.0 180.4 340.6 182.9 342.3 185.3 343.9 187.8 345.4 190.4 346.9 192.9 348.4 195.5 349.9 198.0 351.3 200.6 352.8 203.2 354.1 205.8 355.4 208.4 356.7 211.1 358.0 213.7 359.2 216.4 360.4 219.1 361.5 221.8 362.6 224.5 363.6 227.2 364.7 229.9 365.6 232.7 366.6 235.5 367.5 238.2 368.3 241.0 369.1 243.8 369.9 246.6 370.7 249.5 371.4 252.3 372.1 255.1 372.7 258.0 373.3 260.8 373.9 263.7 374.5 266.6 375.0 269.4" stroke="#ff0000" stroke-width="0.5"/>
<path d="M71.8 42.5 80.9 43.6 89.9 44.8 98.9 46.2 107.8 47.8 116.7 49.5 125.5 51.4 134.3 53.5 142.9 55.8 151.5 58.6 159.9 61.5 168.3 64.7 176.6 67.9 184.8 71.1 193.0 74.5 201.1 77.9 209.3 81.4 217.3 85.1 225.3 88.9 233.2 92.9 241.1 97.0 247.9 100.5 250.5 101.8 253.2 103.2 255.8 104.6 258.4 106.0 261.0 107.5 263.6 109.0 266.2 110.6 268.7 112.2 271.1 113.9 273.6 115.6 276.0 117.3 278.4 119.1 280.8 120.9 283.2 122.7 285.5 124.5 287.9 126.4 290.2 128.2 292.5 130.1 294.8 132.0 297.1 134.0 299.4 135.9 301.6 137.9 303.8 139.9 306.0 141.9 308.2 144.0 310.3 146.1 312.5 148.2 314.6 150.3 316.6 152.5 318.7 154.6 320.7 156.8 322.7 159.0 324.7 161.3 326.7 163.5 328.6 165.8 330.5 168.1 332.4 170.5 334.2 172.8 336.0 175.2 337.8 177.5 339.5 180.0 341.3 182.4 342.9 184.8 344.6 187.3 346.2 189.8 347.8 192.4 349.3 194.9 350.8 197.4 352.3 200.0 353.8 202.6 355.2 205.2 356.6 207.8 357.9 210.4 359.2 213.1 360.5 215.7 361.7 218.4 362.9 221.1 364.0 223.9 365.1 226.6 366.2 229.3 367.2 232.1 368.2 234.9 369.1 237.7 370.0 240.5 370.9 243.3 371.7 246.1 372.5 248.9 373.2 251.8 374.0 254.6 374.6 257.5 375.3 260.4 375.9 263.2 376.5 266.1 377.0 269.0" stroke="#ff0000" stroke-width="0.5"/>
<path d="M71.8 42.5 80.9 43.6 89.9 44.8 98.9 46.2 107.8 47.8 116.7 49.5 125.5 51.4 134.3 53.5 142.9 55.8 151.5 58.6 159.9 61.5 168.3 64.7 176.6 67.9 184.8 71.1 193.0 74.5 201.1 77.9 209.3 81.4 217.3 85.1 225.3 88.9 233.2 92.9 241.1 97.0 247.9 100.5 250.5 101.8 253.2 103.2 255.8 104.6 258.4 106.0 261.0 107.5 263.6 109.0 266.2 110.6 268.7 112.2 271.1 113.9 273.6 115.6 276.0 117.3 278.4 119.1 280.8 120.9 283.2 122.7 285.5 124.5 287.9 126.4 290.2 128.2 292.5 130.1 294.8 132.0 297.1 134.0 299.4 135.9 301.6 137.9 303.8 139.9 306.1 141.9 308.2 143.9 310.4 146.0 312.6 148.1 314.7 150.2 316.8 152.3 318.9 154.4 321.0 156.6 323.0 158.8 325.0 161.0 327.0 163.2 329.0 165.5 330.9 167.8 332.8 170.0 334.7 172.4 336.6 174.7 338.4 177.1 340.2 179.4 342.0 181.8 343.7 184.3 345.4 186.7 347.1 189.2 348.7 191.7 350.3 194.2 351.9 196.8 353.4 199.3 355.0 201.9 356.4 204.5 357.9 207.1 359.3 209.7 360.6 212.3 361.9 215.0 363.2 217.7 364.5 220.4 365.7 223.1 366.8 225.9 367.9 228.6 369.0 231.4 370.0 234.2 371.0 237.0 372.0 239.8 372.9 242.6 373.8 245.5 374.6 248.3 375.4 251.2 376.1 254.1 376.9 256.9 377.5 259.8 378.2 262.7 378.8 265.6 379.4 268.6" stroke="#ff0000" stroke-width="0.5"/>
<path d="M71.8 42.5 80.9 43.6 89.9 44.8 98.9 46.2 107.8 47.8 116.7 49.5 125.5 51.4 134.3 53.5 142.9 55.8 151.5 58.6 159.9 61.5 168.3 64.7 176.6 67.9 184.8 71.1 193.0 74.5 201.1 77.9 209.3 81.4 217.3 85.1 225.3 88.9 233.2 92.9 241.1 97.0 247.9 100.5 250.5 101.8 253.2 103.2 255.8 104.6 258.4 106.0 261.0 107.5 263.6 109.0 266.2 110.6 268.7 112.2 271.1 113.9 273.6 115.6 276.0 117.3 278.4 119.1 280.8 120.9 283.2 122.7 285.5 124.5 287.9 126.4 290.2 128.2 292.5 130.1 294.8 132.0 297.1 134.0 299.4 135.9 301.6 137.9 303.9 139.9 306.1 141.9 308.3 143.9 310.4 146.0 312.6 148.0 314.7 150.1 316.9 152.3 319.0 154.4 321.0 156.5 323.1 158.7 325.1 160.9 327.1 163.1 329.1 165.4 331.1 167.6 333.0 169.9 334.9 172.2 336.8 174.6 338.6 176.9 340.4 179.3 342.2 181.7 344.0 184.1 345.7 186.6 347.4 189.0 349.0 191.5 350.6 194.0 352.2 196.5 353.8 199.1 355.3 201.7 356.8 204.2 358.3 206.8 359.7 209.5 361.1 212.1 362.4 214.8 363.7 217.5 365.0 220.2 366.2 222.9 367.3 225.6 368.5 228.4 369.6 231.2 370.6 234.0 371.6 236.8 372.6 239.6 373.5 242.4 374.4 245.3 375.2 248.1 376.0 251.0 376.8 253.9 377.5 256.8 378.2 259.7 378.9 262.6 379.5 265.5 380.1 268.4" stroke="#ff0000" stroke-width="0.5"/>
<path d="M71.8 42.5 80.9 43.6 89.9 44.8 98.9 46.2 107.8 47.8 116.7 49.5 125.5 51.4 134.3 53.5 142.9 55.8 151.5 58.6 159.9 61.5 168.3 64.7 176.6 67.9 184.8 71.1 193.0 74.5 201.1 77.9 209.3 81.4 217.3 85.1 225.3 88.9 233.2 92.9 241.1 97.0 247.9 100.5 250.5 101.8 253.2 103.2 255.8 104.6 258.4 106.0 261.0 107.5 263.6 109.0 266.2 110.6 268.7 112.2 271.1 113.9 273.6 115.6 276.0 117.3 278.4 119.1 280.8 120.9 283.2 122.7 285.5 124.5 287.9 126.4 290.2 128.2 292.5 130.1 294.8 132.0 297.1 134.0 299.4 135.9 301.6 137.9 303.9 139.9 306.1 141.9 308.3 143.9 310.5 145.9 312.7 147.9 314.9 150.0 317.0 152.1 319.2 154.2 321.3 156.3 323.4 158.4 325.5 160.6 327.5 162.8 329.5 165.0 331.6 167.2 333.5 169.5 335.5 171.7 337.4 174.0 339.3 176.3 341.2 178.7 343.1 181.1 344.9 183.5 346.6 185.9 348.4 188.3 350.1 190.8 351.8 193.3 353.4 195.8 355.1 198.3 356.7 200.9 358.2 203.4 359.7 206.0 361.2 208.6 362.7 211.3 364.1 213.9 365.4 216.6 366.8 219.3 368.0 222.1 369.3 224.8 370.5 227.6 371.6 230.4 372.7 233.2 373.8 236.0 374.8 238.8 375.8 241.7 376.7 244.5 377.6 247.4 378.5 250.3 379.3 253.2 380.1 256.1 380.8 259.1 381.5 262.0 382.2 264.9 382.8 267.9" stroke="#ff0000" stroke-width="0.5"/>
<path d="M71.8 42.5 80.9 43.6 89.9 44.8 98.9 46.2 107.8 47.8 116.7 49.5 125.5 51.4 134.3 53.5 142.9 55.8 151.5 58.6 159.9 61.5 168.3 64.7 176.6 67.9 184.8 71.1 193.0 74.5 201.1 77.9 209.3 81.4 217.3 85.1 225.3 88.9 233.2 92.9 241.1 97.0 247.9 100.5 250.5 101.8 253.2 103.2 255.8 104.6 258.4 106.0 261.0 107.5 263.6 109.0 266.2 110.6 268.7 112.2 271.1 113.9 273.6 115.6 276.0 117.3 278.4 119.1 280.8 120.9 283.2 122.7 285.5 124.5 287.9 126.4 290.2 128.2 292.5 130.1 294.8 132.0 297.1 134.0 299.4 135.9 301.6 137.9 303.9 139.9 306.1 141.9 308.3 143.9 310.5 146.0 312.6 148.0 314.8 150.1 316.9 152.2 319.0 154.3 321.1 156.5 323.2 158.6 325.2 160.8 327.2 163.0 329.2 165.3 331.2 167.5 333.1 169.8 335.0 172.1 336.9 174.4 338.8 176.8 340.6 179.1 342.4 181.5 344.2 183.9 345.9 186.4 347.6 188.8 349.3 191.3 350.9 193.8 352.5 196.4 354.1 198.9 355.7 201.5 357.2 204.0 358.6 206.6 360.1 209.3 361.5 211.9 362.8 214.6 364.1 217.3 365.4 220.0 366.6 222.7 367.8 225.4 369.0 228.2 370.1 231.0 371.1 233.8 372.2 236.6 373.2 239.4 374.1 242.2 375.0 245.1 375.8 247.9 376.7 250.8 377.4 253.7 378.2 256.6 378.9 259.5 379.6 262.4 380.2 265.4 380.8 268.3" stroke="#ff0000" stroke-width="2.7"/>
<path d="M66.6 46.5 70.6 46.5 74.7 46.6 78.8 46.7 82.8 46.8 86.9 47.0 91.0 47.2 95.0 47.5 99.1 47.8 103.1 48.1 107.2 48.5 111.3 48.9 115.3 49.4 119.4 49.9 123.4 50.5 127.5 51.1 131.6 51.8 135.6 52.5 139.7 53.3 143.8 54.1 147.8 55.0 151.9 55.9 155.9 56.9 160.0 57.9 164.1 59.0 168.1 60.2 172.2 61.4 176.2 62.6 180.3 64.0 184.4 65.3 188.4 66.8 192.5 68.3 196.5 69.9 200.6 71.5 204.7 73.3 208.7 75.0 212.8 76.9 216.9 78.8 220.9 80.8 225.0 82.8 229.0 84.9 233.1 87.1 237.2 89.4 241.2 91.8 245.3 94.2 249.3 96.7 253.4 99.2 257.5 101.9 261.5 104.6 262.3 105.2 263.6 106.0 264.8 106.8 266.0 107.7 267.2 108.6 268.4 109.4 269.7 110.3 270.9 111.2 272.1 112.1 273.3 113.0 274.5 113.9 275.7 114.8 277.0 115.7 278.2 116.7 279.4 117.6 280.6 118.5 281.8 119.5 283.1 120.5 284.3 121.4 285.5 122.4 286.7 123.4 287.9 124.4 289.1 125.4 290.4 126.4 291.6 127.4 292.8 128.5 294.0 129.5 295.2 130.6 296.5 131.6 297.7 132.7 298.9 133.8 300.1 134.8 301.3 135.9 302.5 137.1 303.8 138.2 305.0 139.3 306.2 140.4 307.4 141.6 308.6 142.7 309.9 143.9 311.1 145.1 312.3 146.3 313.5 147.5 314.7 148.7 315.9 149.9 317.2 151.2 318.4 152.4 319.6 153.7 320.8 155.0 322.0 156.3 323.3 157.6 324.5 158.9 325.7 160.2 326.9 161.6 328.1 163.0 329.4 164.4 330.6 165.8 331.8 167.2 333.0 168.6 334.2 170.1 335.4 171.6 336.7 173.1 337.9 174.6 339.1 176.1 340.3 177.7 341.5 179.3 342.8 180.9 344.0 182.6 345.2 184.3 346.4 186.0 347.6 187.7 348.8 189.5 350.1 191.3 351.3 193.1 352.5 195.0 353.7 196.9 354.9 198.9 356.2 200.9 357.4 203.0 358.6 205.1 359.8 207.3 361.0 209.6 362.2 211.9 363.5 214.3 364.7 216.8 365.9 219.4 367.1 222.0 368.3 224.8 369.6 227.8 370.8 230.8 372.0 234.0 373.2 237.4 374.4 241.0 375.6 244.9 376.9 249.0 378.1 253.4" stroke="#000" stroke-width="3" stroke-dasharray="6.3 1.1 4.2 1.1"/>
</g>
<path d="M67.4 210.2 h2 M392.3 210.2 h-2 M67.4 201.4 h2 M392.3 201.4 h-2 M67.4 195.1 h2 M392.3 195.1 h-2 M67.4 190.3 h2 M392.3 190.3 h-2 M67.4 186.3 h2 M392.3 186.3 h-2 M67.4 182.9 h2 M392.3 182.9 h-2 M67.4 180.0 h2 M392.3 180.0 h-2 M67.4 177.5 h2 M392.3 177.5 h-2 M67.4 160.1 h2 M392.3 160.1 h-2 M67.4 151.3 h2 M392.3 151.3 h-2 M67.4 145.0 h2 M392.3 145.0 h-2 M67.4 140.1 h2 M392.3 140.1 h-2 M67.4 136.2 h2 M392.3 136.2 h-2 M67.4 132.8 h2 M392.3 132.8 h-2 M67.4 129.9 h2 M392.3 129.9 h-2 M67.4 127.3 h2 M392.3 127.3 h-2 M67.4 110.0 h2 M392.3 110.0 h-2 M67.4 101.1 h2 M392.3 101.1 h-2 M67.4 94.9 h2 M392.3 94.9 h-2 M67.4 90.0 h2 M392.3 90.0 h-2 M67.4 86.0 h2 M392.3 86.0 h-2 M67.4 82.7 h2 M392.3 82.7 h-2 M67.4 79.8 h2 M392.3 79.8 h-2 M67.4 77.2 h2 M392.3 77.2 h-2 M67.4 59.8 h2 M392.3 59.8 h-2 M67.4 51.0 h2 M392.3 51.0 h-2 M67.4 44.7 h2 M392.3 44.7 h-2 M67.4 39.9 h2 M392.3 39.9 h-2 M67.4 35.9 h2 M392.3 35.9 h-2 M67.4 32.6 h2 M392.3 32.6 h-2 M67.4 29.7 h2 M392.3 29.7 h-2 M67.4 27.1 h2 M392.3 27.1 h-2" stroke="#999" stroke-width="0.6" fill="none"/>
<path d="M67.4 225.3 v-4.2 M67.4 24.8 v4.2 M87.7 225.3 v-2.7 M87.7 24.8 v2.7 M108.0 225.3 v-2.7 M108.0 24.8 v2.7 M128.3 225.3 v-2.7 M128.3 24.8 v2.7 M148.6 225.3 v-4.2 M148.6 24.8 v4.2 M168.9 225.3 v-2.7 M168.9 24.8 v2.7 M189.2 225.3 v-2.7 M189.2 24.8 v2.7 M209.5 225.3 v-2.7 M209.5 24.8 v2.7 M229.8 225.3 v-4.2 M229.8 24.8 v4.2 M250.2 225.3 v-2.7 M250.2 24.8 v2.7 M270.5 225.3 v-2.7 M270.5 24.8 v2.7 M290.8 225.3 v-2.7 M290.8 24.8 v2.7 M311.1 225.3 v-4.2 M311.1 24.8 v4.2 M331.4 225.3 v-2.7 M331.4 24.8 v2.7 M351.7 225.3 v-2.7 M351.7 24.8 v2.7 M372.0 225.3 v-2.7 M372.0 24.8 v2.7 M392.3 225.3 v-4.2 M392.3 24.8 v4.2 M67.4 225.3 h4 M392.3 225.3 h-4 M67.4 175.2 h4 M392.3 175.2 h-4 M67.4 125.0 h4 M392.3 125.0 h-4 M67.4 74.9 h4 M392.3 74.9 h-4 M67.4 24.8 h4 M392.3 24.8 h-4" stroke="#222" stroke-width="0.9" fill="none"/>
<rect x="67.4" y="24.8" width="324.9" height="200.5" fill="none" stroke="#111" stroke-width="1.25"/>
<path d="M86.5 116.4 H115.3" stroke="#ff0000" stroke-width="2.6"/><text x="127" y="120.4" style="fill:#ff0000" class="lg">Au2</text>
<path d="M86.5 135.6 H115.3" stroke="#ff8000" stroke-width="2.6"/><text x="127" y="139.6" style="fill:#ff8000" class="lg">Au4</text>
<path d="M86.5 154.6 H115.3" stroke="#ff00ff" stroke-width="2.6"/><text x="127" y="158.6" style="fill:#ff00ff" class="lg">Au7</text>
<path d="M86.5 173.3 H115.3" stroke="#0000ff" stroke-width="2.6"/><text x="127" y="177.3" style="fill:#0000ff" class="lg">Au12</text>
<path d="M86.5 192.0 H115.3" stroke="#009900" stroke-width="2.6"/><text x="127" y="196.0" style="fill:#009900" class="lg">Au19</text>
<path d="M86.5 210.1 H115.3" stroke="#00ffff" stroke-width="2.6"/><text x="127" y="214.1" style="fill:#00ffff" class="lg">Au21</text>

<text x="67.4" y="242" text-anchor="middle" class="tk">0</text><text x="148.6" y="242" text-anchor="middle" class="tk">200</text><text x="229.8" y="242" text-anchor="middle" class="tk">400</text><text x="311.1" y="242" text-anchor="middle" class="tk">600</text><text x="392.3" y="242" text-anchor="middle" class="tk">800</text>
<text x="63.9" y="29.3" text-anchor="end" class="tk">10</text><text x="63.9" y="79.4" text-anchor="end" class="tk">1</text><text x="63.9" y="129.6" text-anchor="end" class="tk">0.100</text><text x="63.9" y="179.7" text-anchor="end" class="tk">0.010</text><text x="63.9" y="229.8" text-anchor="end" class="tk">0.001</text>
<text x="230" y="13.9" text-anchor="middle" style="font-family:'Liberation Sans',sans-serif;font-size:14.85px">Halos without GRASP</text>
<text x="192.4" y="265.1" class="lb i">v</text><text x="200" y="267.7" class="sb">min</text><text x="222.6" y="265.1" class="lb">[km/s]</text>
<g transform="translate(15.5 201.5) rotate(-90)">
<text x="0" y="0" class="lb i">η</text><text x="8" y="0" class="lb">(</text><text x="13.8" y="0" class="lb i">v</text><text x="22" y="2.4" class="sb">min</text><text x="39" y="0" class="lb">)</text>
<text x="48.7" y="0" class="lb">[</text><text x="55" y="0" class="lb">10</text><text x="71.5" y="-6.8" class="sp">−</text><text x="79" y="-6.8" class="sp">3</text><text x="89.7" y="0" class="lb">(km/s)</text><text x="134.7" y="-6.8" class="sp">−</text><text x="141.5" y="-6.8" class="sp">1</text><text x="148.6" y="0" class="lb">]</text>
</g>
</svg>
</body></html>
